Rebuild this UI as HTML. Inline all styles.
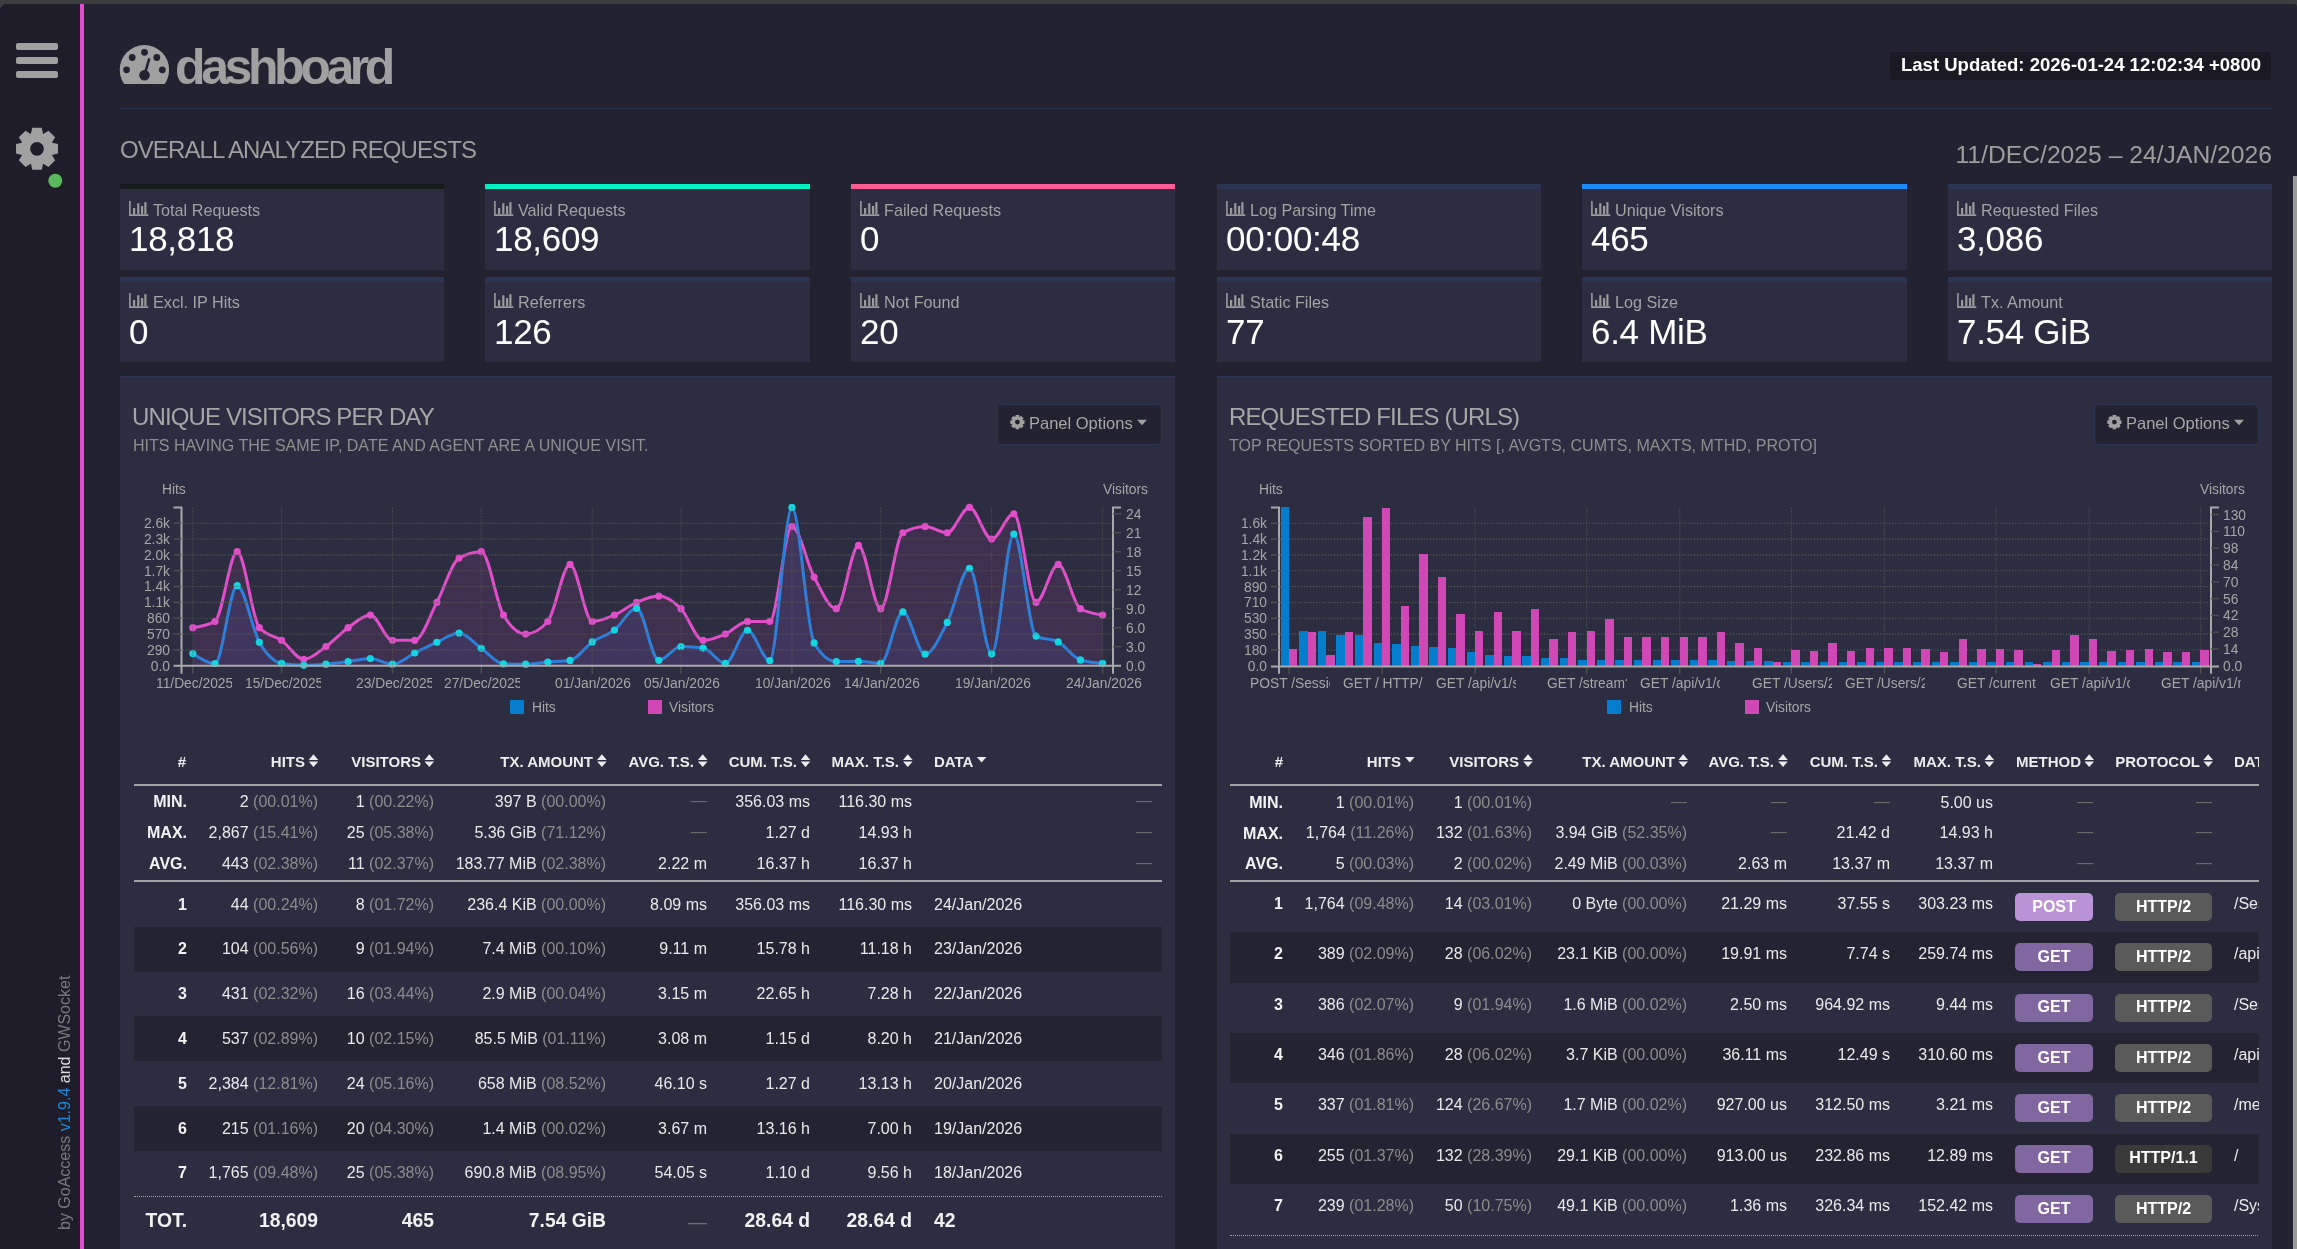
<!DOCTYPE html>
<html><head><meta charset="utf-8"><title>GoAccess Dashboard</title>
<style>
html,body{margin:0;padding:0;}
body{width:2297px;height:1249px;overflow:hidden;background:#3d3e40;position:relative;font-family:'Liberation Sans', sans-serif;}
.t{position:absolute;white-space:nowrap;will-change:transform;}
.r{position:absolute;}
svg{position:absolute;overflow:visible;}
</style></head><body>

<div class="r" style="left:0px;top:4px;width:2297px;height:1245px;background:#232230;border-top-left-radius:7px;border-top-right-radius:3px;"></div>
<div class="r" style="left:0px;top:4px;width:80px;height:1245px;background:#1e1d29;border-top-left-radius:7px;"></div>
<div class="r" style="left:80px;top:4px;width:4px;height:1245px;background:#e14eca;"></div>
<div class="r" style="left:16px;top:43px;width:42px;height:7px;background:#a0a0a0;border-radius:2px;"></div>
<div class="r" style="left:16px;top:57px;width:42px;height:7px;background:#a0a0a0;border-radius:2px;"></div>
<div class="r" style="left:16px;top:71px;width:42px;height:7px;background:#a0a0a0;border-radius:2px;"></div>
<svg style="left:0;top:0" width="84" height="200"><path d="M30.80,133.83 L30.90,133.79 L32.29,127.82 L41.71,127.82 L43.10,133.79 L43.20,133.83 L43.30,133.88 L48.50,130.64 L55.16,137.30 L51.92,142.50 L51.97,142.60 L52.01,142.70 L57.98,144.09 L57.98,153.51 L52.01,154.90 L51.97,155.00 L51.92,155.10 L55.16,160.30 L48.50,166.96 L43.30,163.72 L43.20,163.77 L43.10,163.81 L41.71,169.78 L32.29,169.78 L30.90,163.81 L30.80,163.77 L30.70,163.72 L25.50,166.96 L18.84,160.30 L22.08,155.10 L22.03,155.00 L21.99,154.90 L16.02,153.51 L16.02,144.09 L21.99,142.70 L22.03,142.60 L22.08,142.50 L18.84,137.30 L25.50,130.64 L30.70,133.88Z M43.90,148.80 A6.9,6.9 0 1,0 30.10,148.80 A6.9,6.9 0 1,0 43.90,148.80Z" fill="#a0a0a0" fill-rule="evenodd"/><circle cx="55.3" cy="180.8" r="7" fill="#5cb85c"/></svg>
<div class="t" style="left:-62.3px;top:1093.3px;width:254px;height:20px;font-size:16px;line-height:20px;transform:rotate(-90deg);transform-origin:127px 10px;color:#7a7a7a;">by GoAccess <span style="color:#1f86d6">v1.9.4</span> <span style="color:#dcdcdc">and</span> GWSocket</div>
<svg style="left:118px;top:43px" width="54" height="44" viewBox="118 43 54 44"><defs><clipPath id="gclip"><rect x="110" y="40" width="70" height="44.1"/></clipPath></defs><g clip-path="url(#gclip)"><circle cx="144.4" cy="69.7" r="24.7" fill="#a0a0a0"/></g><circle cx="144.5" cy="52.3" r="3.4" fill="#232230"/><circle cx="132.2" cy="57.5" r="3.4" fill="#232230"/><circle cx="156.8" cy="57.5" r="3.4" fill="#232230"/><circle cx="126.6" cy="69.8" r="3.4" fill="#232230"/><circle cx="162.3" cy="69.8" r="3.4" fill="#232230"/><circle cx="144.5" cy="75.3" r="5.3" fill="#232230"/><line x1="144.5" y1="75" x2="149" y2="59.5" stroke="#232230" stroke-width="2.6" stroke-linecap="round"/></svg>
<div class="t" style="left:175.00px;top:41.76px;width:1200px;font-size:50px;line-height:50px;color:#a0a0a0;text-align:left;font-weight:bold;letter-spacing:-4.4px;">dashboard</div>
<div class="r" style="left:1890px;top:52px;width:381px;height:28px;background:#1b1a24;border-radius:4px;"></div>
<div class="t" style="left:1761.00px;top:56.49px;width:500px;font-size:18.55px;line-height:18.55px;color:#ffffff;text-align:right;font-weight:bold;">Last Updated: 2026-01-24 12:02:34 +0800</div>
<div class="r" style="left:120px;top:108px;width:2152px;height:1px;background:#2b3553;"></div>
<div class="t" style="left:119.80px;top:137.88px;width:1200px;font-size:24px;line-height:24px;color:#9e9e9e;text-align:left;letter-spacing:-0.91px;">OVERALL ANALYZED REQUESTS</div>
<div class="t" style="left:1672.00px;top:142.89px;width:600px;font-size:24.7px;line-height:24.7px;color:#9e9e9e;text-align:right;">11/DEC/2025 – 24/JAN/2026</div>
<div class="r" style="left:2293px;top:176px;width:4px;height:1073px;background:#9a9a9a;"></div>
<div class="r" style="left:120px;top:184px;width:324px;height:5px;background:#151a1d;"></div>
<div class="r" style="left:120px;top:189px;width:324px;height:81px;background:#2c2d40;"></div>
<svg style="left:129px;top:201px" width="20" height="15" viewBox="0 0 20 15"><path d="M0.9,0 V14.1 H19.3" fill="none" stroke="#9a9a9a" stroke-width="1.6"/><rect x="4" y="7" width="2.2" height="6" fill="#9a9a9a"/><rect x="8.2" y="2.2" width="2.2" height="10.8" fill="#9a9a9a"/><rect x="12" y="5" width="2.2" height="8" fill="#9a9a9a"/><rect x="15.3" y="1.2" width="2.2" height="11.8" fill="#9a9a9a"/></svg>
<div class="t" style="left:153.00px;top:201.78px;width:1200px;font-size:16.2px;line-height:16.2px;color:#a3a3a3;text-align:left;">Total Requests</div>
<div class="t" style="left:129.20px;top:220.77px;width:1200px;font-size:35px;line-height:35px;color:#ffffff;text-align:left;letter-spacing:-0.3px;">18,818</div>
<div class="r" style="left:120px;top:277px;width:324px;height:5px;background:#2b3553;"></div>
<div class="r" style="left:120px;top:282px;width:324px;height:80px;background:#2c2d40;"></div>
<svg style="left:129px;top:293px" width="20" height="15" viewBox="0 0 20 15"><path d="M0.9,0 V14.1 H19.3" fill="none" stroke="#9a9a9a" stroke-width="1.6"/><rect x="4" y="7" width="2.2" height="6" fill="#9a9a9a"/><rect x="8.2" y="2.2" width="2.2" height="10.8" fill="#9a9a9a"/><rect x="12" y="5" width="2.2" height="8" fill="#9a9a9a"/><rect x="15.3" y="1.2" width="2.2" height="11.8" fill="#9a9a9a"/></svg>
<div class="t" style="left:153.00px;top:293.78px;width:1200px;font-size:16.2px;line-height:16.2px;color:#a3a3a3;text-align:left;">Excl. IP Hits</div>
<div class="t" style="left:129.20px;top:313.77px;width:1200px;font-size:35px;line-height:35px;color:#ffffff;text-align:left;letter-spacing:-0.3px;">0</div>
<div class="r" style="left:485px;top:184px;width:325px;height:5px;background:#00f2c3;"></div>
<div class="r" style="left:485px;top:189px;width:325px;height:81px;background:#2c2d40;"></div>
<svg style="left:494px;top:201px" width="20" height="15" viewBox="0 0 20 15"><path d="M0.9,0 V14.1 H19.3" fill="none" stroke="#9a9a9a" stroke-width="1.6"/><rect x="4" y="7" width="2.2" height="6" fill="#9a9a9a"/><rect x="8.2" y="2.2" width="2.2" height="10.8" fill="#9a9a9a"/><rect x="12" y="5" width="2.2" height="8" fill="#9a9a9a"/><rect x="15.3" y="1.2" width="2.2" height="11.8" fill="#9a9a9a"/></svg>
<div class="t" style="left:518.00px;top:201.78px;width:1200px;font-size:16.2px;line-height:16.2px;color:#a3a3a3;text-align:left;">Valid Requests</div>
<div class="t" style="left:494.20px;top:220.77px;width:1200px;font-size:35px;line-height:35px;color:#ffffff;text-align:left;letter-spacing:-0.3px;">18,609</div>
<div class="r" style="left:485px;top:277px;width:325px;height:5px;background:#2b3553;"></div>
<div class="r" style="left:485px;top:282px;width:325px;height:80px;background:#2c2d40;"></div>
<svg style="left:494px;top:293px" width="20" height="15" viewBox="0 0 20 15"><path d="M0.9,0 V14.1 H19.3" fill="none" stroke="#9a9a9a" stroke-width="1.6"/><rect x="4" y="7" width="2.2" height="6" fill="#9a9a9a"/><rect x="8.2" y="2.2" width="2.2" height="10.8" fill="#9a9a9a"/><rect x="12" y="5" width="2.2" height="8" fill="#9a9a9a"/><rect x="15.3" y="1.2" width="2.2" height="11.8" fill="#9a9a9a"/></svg>
<div class="t" style="left:518.00px;top:293.78px;width:1200px;font-size:16.2px;line-height:16.2px;color:#a3a3a3;text-align:left;">Referrers</div>
<div class="t" style="left:494.20px;top:313.77px;width:1200px;font-size:35px;line-height:35px;color:#ffffff;text-align:left;letter-spacing:-0.3px;">126</div>
<div class="r" style="left:851px;top:184px;width:324px;height:5px;background:#fd5d93;"></div>
<div class="r" style="left:851px;top:189px;width:324px;height:81px;background:#2c2d40;"></div>
<svg style="left:860px;top:201px" width="20" height="15" viewBox="0 0 20 15"><path d="M0.9,0 V14.1 H19.3" fill="none" stroke="#9a9a9a" stroke-width="1.6"/><rect x="4" y="7" width="2.2" height="6" fill="#9a9a9a"/><rect x="8.2" y="2.2" width="2.2" height="10.8" fill="#9a9a9a"/><rect x="12" y="5" width="2.2" height="8" fill="#9a9a9a"/><rect x="15.3" y="1.2" width="2.2" height="11.8" fill="#9a9a9a"/></svg>
<div class="t" style="left:884.00px;top:201.78px;width:1200px;font-size:16.2px;line-height:16.2px;color:#a3a3a3;text-align:left;">Failed Requests</div>
<div class="t" style="left:860.20px;top:220.77px;width:1200px;font-size:35px;line-height:35px;color:#ffffff;text-align:left;letter-spacing:-0.3px;">0</div>
<div class="r" style="left:851px;top:277px;width:324px;height:5px;background:#2b3553;"></div>
<div class="r" style="left:851px;top:282px;width:324px;height:80px;background:#2c2d40;"></div>
<svg style="left:860px;top:293px" width="20" height="15" viewBox="0 0 20 15"><path d="M0.9,0 V14.1 H19.3" fill="none" stroke="#9a9a9a" stroke-width="1.6"/><rect x="4" y="7" width="2.2" height="6" fill="#9a9a9a"/><rect x="8.2" y="2.2" width="2.2" height="10.8" fill="#9a9a9a"/><rect x="12" y="5" width="2.2" height="8" fill="#9a9a9a"/><rect x="15.3" y="1.2" width="2.2" height="11.8" fill="#9a9a9a"/></svg>
<div class="t" style="left:884.00px;top:293.78px;width:1200px;font-size:16.2px;line-height:16.2px;color:#a3a3a3;text-align:left;">Not Found</div>
<div class="t" style="left:860.20px;top:313.77px;width:1200px;font-size:35px;line-height:35px;color:#ffffff;text-align:left;letter-spacing:-0.3px;">20</div>
<div class="r" style="left:1217px;top:184px;width:324px;height:5px;background:#2b3553;"></div>
<div class="r" style="left:1217px;top:189px;width:324px;height:81px;background:#2c2d40;"></div>
<svg style="left:1226px;top:201px" width="20" height="15" viewBox="0 0 20 15"><path d="M0.9,0 V14.1 H19.3" fill="none" stroke="#9a9a9a" stroke-width="1.6"/><rect x="4" y="7" width="2.2" height="6" fill="#9a9a9a"/><rect x="8.2" y="2.2" width="2.2" height="10.8" fill="#9a9a9a"/><rect x="12" y="5" width="2.2" height="8" fill="#9a9a9a"/><rect x="15.3" y="1.2" width="2.2" height="11.8" fill="#9a9a9a"/></svg>
<div class="t" style="left:1250.00px;top:201.78px;width:1200px;font-size:16.2px;line-height:16.2px;color:#a3a3a3;text-align:left;">Log Parsing Time</div>
<div class="t" style="left:1226.20px;top:220.77px;width:1200px;font-size:35px;line-height:35px;color:#ffffff;text-align:left;letter-spacing:-0.3px;">00:00:48</div>
<div class="r" style="left:1217px;top:277px;width:324px;height:5px;background:#2b3553;"></div>
<div class="r" style="left:1217px;top:282px;width:324px;height:80px;background:#2c2d40;"></div>
<svg style="left:1226px;top:293px" width="20" height="15" viewBox="0 0 20 15"><path d="M0.9,0 V14.1 H19.3" fill="none" stroke="#9a9a9a" stroke-width="1.6"/><rect x="4" y="7" width="2.2" height="6" fill="#9a9a9a"/><rect x="8.2" y="2.2" width="2.2" height="10.8" fill="#9a9a9a"/><rect x="12" y="5" width="2.2" height="8" fill="#9a9a9a"/><rect x="15.3" y="1.2" width="2.2" height="11.8" fill="#9a9a9a"/></svg>
<div class="t" style="left:1250.00px;top:293.78px;width:1200px;font-size:16.2px;line-height:16.2px;color:#a3a3a3;text-align:left;">Static Files</div>
<div class="t" style="left:1226.20px;top:313.77px;width:1200px;font-size:35px;line-height:35px;color:#ffffff;text-align:left;letter-spacing:-0.3px;">77</div>
<div class="r" style="left:1582px;top:184px;width:325px;height:5px;background:#1d8cf8;"></div>
<div class="r" style="left:1582px;top:189px;width:325px;height:81px;background:#2c2d40;"></div>
<svg style="left:1591px;top:201px" width="20" height="15" viewBox="0 0 20 15"><path d="M0.9,0 V14.1 H19.3" fill="none" stroke="#9a9a9a" stroke-width="1.6"/><rect x="4" y="7" width="2.2" height="6" fill="#9a9a9a"/><rect x="8.2" y="2.2" width="2.2" height="10.8" fill="#9a9a9a"/><rect x="12" y="5" width="2.2" height="8" fill="#9a9a9a"/><rect x="15.3" y="1.2" width="2.2" height="11.8" fill="#9a9a9a"/></svg>
<div class="t" style="left:1615.00px;top:201.78px;width:1200px;font-size:16.2px;line-height:16.2px;color:#a3a3a3;text-align:left;">Unique Visitors</div>
<div class="t" style="left:1591.20px;top:220.77px;width:1200px;font-size:35px;line-height:35px;color:#ffffff;text-align:left;letter-spacing:-0.3px;">465</div>
<div class="r" style="left:1582px;top:277px;width:325px;height:5px;background:#2b3553;"></div>
<div class="r" style="left:1582px;top:282px;width:325px;height:80px;background:#2c2d40;"></div>
<svg style="left:1591px;top:293px" width="20" height="15" viewBox="0 0 20 15"><path d="M0.9,0 V14.1 H19.3" fill="none" stroke="#9a9a9a" stroke-width="1.6"/><rect x="4" y="7" width="2.2" height="6" fill="#9a9a9a"/><rect x="8.2" y="2.2" width="2.2" height="10.8" fill="#9a9a9a"/><rect x="12" y="5" width="2.2" height="8" fill="#9a9a9a"/><rect x="15.3" y="1.2" width="2.2" height="11.8" fill="#9a9a9a"/></svg>
<div class="t" style="left:1615.00px;top:293.78px;width:1200px;font-size:16.2px;line-height:16.2px;color:#a3a3a3;text-align:left;">Log Size</div>
<div class="t" style="left:1591.20px;top:313.77px;width:1200px;font-size:35px;line-height:35px;color:#ffffff;text-align:left;letter-spacing:-0.3px;">6.4 MiB</div>
<div class="r" style="left:1948px;top:184px;width:324px;height:5px;background:#2b3553;"></div>
<div class="r" style="left:1948px;top:189px;width:324px;height:81px;background:#2c2d40;"></div>
<svg style="left:1957px;top:201px" width="20" height="15" viewBox="0 0 20 15"><path d="M0.9,0 V14.1 H19.3" fill="none" stroke="#9a9a9a" stroke-width="1.6"/><rect x="4" y="7" width="2.2" height="6" fill="#9a9a9a"/><rect x="8.2" y="2.2" width="2.2" height="10.8" fill="#9a9a9a"/><rect x="12" y="5" width="2.2" height="8" fill="#9a9a9a"/><rect x="15.3" y="1.2" width="2.2" height="11.8" fill="#9a9a9a"/></svg>
<div class="t" style="left:1981.00px;top:201.78px;width:1200px;font-size:16.2px;line-height:16.2px;color:#a3a3a3;text-align:left;">Requested Files</div>
<div class="t" style="left:1957.20px;top:220.77px;width:1200px;font-size:35px;line-height:35px;color:#ffffff;text-align:left;letter-spacing:-0.3px;">3,086</div>
<div class="r" style="left:1948px;top:277px;width:324px;height:5px;background:#2b3553;"></div>
<div class="r" style="left:1948px;top:282px;width:324px;height:80px;background:#2c2d40;"></div>
<svg style="left:1957px;top:293px" width="20" height="15" viewBox="0 0 20 15"><path d="M0.9,0 V14.1 H19.3" fill="none" stroke="#9a9a9a" stroke-width="1.6"/><rect x="4" y="7" width="2.2" height="6" fill="#9a9a9a"/><rect x="8.2" y="2.2" width="2.2" height="10.8" fill="#9a9a9a"/><rect x="12" y="5" width="2.2" height="8" fill="#9a9a9a"/><rect x="15.3" y="1.2" width="2.2" height="11.8" fill="#9a9a9a"/></svg>
<div class="t" style="left:1981.00px;top:293.78px;width:1200px;font-size:16.2px;line-height:16.2px;color:#a3a3a3;text-align:left;">Tx. Amount</div>
<div class="t" style="left:1957.20px;top:313.77px;width:1200px;font-size:35px;line-height:35px;color:#ffffff;text-align:left;letter-spacing:-0.3px;">7.54 GiB</div>
<div class="r" style="left:120px;top:376px;width:1055px;height:873px;background:#2c2d40;border-top:1px solid #2b3553;box-sizing:border-box;"></div>
<div class="r" style="left:1217px;top:376px;width:1055px;height:873px;background:#2c2d40;border-top:1px solid #2b3553;box-sizing:border-box;"></div>
<div class="t" style="left:132.30px;top:404.68px;width:1200px;font-size:24px;line-height:24px;color:#a6a6a6;text-align:left;letter-spacing:-0.87px;">UNIQUE VISITORS PER DAY</div>
<div class="t" style="left:133.00px;top:437.31px;width:1200px;font-size:16.05px;line-height:16.05px;color:#8f8f8f;text-align:left;">HITS HAVING THE SAME IP, DATE AND AGENT ARE A UNIQUE VISIT.</div>
<div class="t" style="left:1228.50px;top:404.68px;width:1200px;font-size:24px;line-height:24px;color:#a6a6a6;text-align:left;letter-spacing:-0.87px;">REQUESTED FILES (URLS)</div>
<div class="t" style="left:1229.20px;top:437.31px;width:1200px;font-size:16.05px;line-height:16.05px;color:#8f8f8f;text-align:left;">TOP REQUESTS SORTED BY HITS [, AVGTS, CUMTS, MAXTS, MTHD, PROTO]</div>
<div class="r" style="left:997px;top:404px;width:165px;height:41px;background:#232230;border:1px solid #2b3553;border-radius:5px;box-sizing:border-box;"></div>
<svg style="left:0;top:0" width="1" height="1"><path d="M1015.33,417.11 L1015.26,417.14 L1015.72,415.00 L1019.08,415.00 L1019.54,417.14 L1019.47,417.11 L1019.39,417.08 L1021.23,415.89 L1023.61,418.27 L1022.42,420.11 L1022.39,420.03 L1022.36,419.96 L1024.50,420.42 L1024.50,423.78 L1022.36,424.24 L1022.39,424.17 L1022.42,424.09 L1023.61,425.93 L1021.23,428.31 L1019.39,427.12 L1019.47,427.09 L1019.54,427.06 L1019.08,429.20 L1015.72,429.20 L1015.26,427.06 L1015.33,427.09 L1015.41,427.12 L1013.57,428.31 L1011.19,425.93 L1012.38,424.09 L1012.41,424.17 L1012.44,424.24 L1010.30,423.78 L1010.30,420.42 L1012.44,419.96 L1012.41,420.03 L1012.38,420.11 L1011.19,418.27 L1013.57,415.89 L1015.41,417.08Z M1019.80,422.10 A2.4,2.4 0 1,0 1015.00,422.10 A2.4,2.4 0 1,0 1019.80,422.10Z" fill="#a0a0a0" fill-rule="evenodd"/><path d="M1137,419.8 L1147,419.8 L1142,425.3Z" fill="#a0a0a0"/></svg>
<div class="t" style="left:1029.00px;top:415.23px;width:1200px;font-size:16.5px;line-height:16.5px;color:#a6a6a6;text-align:left;">Panel Options</div>
<div class="r" style="left:2094px;top:404px;width:165px;height:41px;background:#232230;border:1px solid #2b3553;border-radius:5px;box-sizing:border-box;"></div>
<svg style="left:0;top:0" width="1" height="1"><path d="M2112.33,417.11 L2112.26,417.14 L2112.72,415.00 L2116.08,415.00 L2116.54,417.14 L2116.47,417.11 L2116.39,417.08 L2118.23,415.89 L2120.61,418.27 L2119.42,420.11 L2119.39,420.03 L2119.36,419.96 L2121.50,420.42 L2121.50,423.78 L2119.36,424.24 L2119.39,424.17 L2119.42,424.09 L2120.61,425.93 L2118.23,428.31 L2116.39,427.12 L2116.47,427.09 L2116.54,427.06 L2116.08,429.20 L2112.72,429.20 L2112.26,427.06 L2112.33,427.09 L2112.41,427.12 L2110.57,428.31 L2108.19,425.93 L2109.38,424.09 L2109.41,424.17 L2109.44,424.24 L2107.30,423.78 L2107.30,420.42 L2109.44,419.96 L2109.41,420.03 L2109.38,420.11 L2108.19,418.27 L2110.57,415.89 L2112.41,417.08Z M2116.80,422.10 A2.4,2.4 0 1,0 2112.00,422.10 A2.4,2.4 0 1,0 2116.80,422.10Z" fill="#a0a0a0" fill-rule="evenodd"/><path d="M2234,419.8 L2244,419.8 L2239,425.3Z" fill="#a0a0a0"/></svg>
<div class="t" style="left:2126.00px;top:415.23px;width:1200px;font-size:16.5px;line-height:16.5px;color:#a6a6a6;text-align:left;">Panel Options</div>
<svg style="left:0;top:0" width="2297" height="1249"><path d="M192.80,627.71 C200.20,626.65 207.59,625.60 214.99,621.38 C222.39,617.15 229.78,551.72 237.18,551.72 C244.58,551.72 251.97,619.27 259.37,627.71 C266.77,636.15 274.16,635.10 281.56,640.37 C288.96,645.65 296.35,659.37 303.75,659.37 C311.15,659.37 318.54,651.98 325.94,646.70 C333.34,641.43 340.73,632.98 348.13,627.71 C355.53,622.43 362.92,615.04 370.32,615.04 C377.72,615.04 385.11,640.37 392.51,640.37 C399.91,640.37 407.30,640.37 414.70,640.37 C422.10,640.37 429.49,616.10 436.89,602.38 C444.29,588.66 451.68,562.28 459.08,558.06 C466.48,553.83 473.87,551.72 481.27,551.72 C488.67,551.72 496.06,602.38 503.46,615.04 C510.86,627.71 518.25,634.04 525.65,634.04 C533.05,634.04 540.44,629.82 547.84,621.38 C555.24,612.93 562.63,564.39 570.03,564.39 C577.43,564.39 584.82,621.38 592.22,621.38 C599.62,621.38 607.01,618.21 614.41,615.04 C621.81,611.88 629.20,605.55 636.60,602.38 C644.00,599.21 651.39,596.05 658.79,596.05 C666.19,596.05 673.58,601.32 680.98,608.71 C688.38,616.10 695.77,640.37 703.17,640.37 C710.57,640.37 717.96,637.21 725.36,634.04 C732.76,630.87 740.15,621.38 747.55,621.38 C754.95,621.38 762.34,621.38 769.74,621.38 C777.14,621.38 784.53,526.40 791.93,526.40 C799.33,526.40 806.72,563.33 814.12,577.05 C821.52,590.77 828.91,608.71 836.31,608.71 C843.71,608.71 851.10,545.39 858.50,545.39 C865.90,545.39 873.29,608.71 880.69,608.71 C888.09,608.71 895.48,536.95 902.88,532.73 C910.28,528.51 917.67,526.40 925.07,526.40 C932.47,526.40 939.86,532.73 947.26,532.73 C954.66,532.73 962.05,507.40 969.45,507.40 C976.85,507.40 984.24,539.06 991.64,539.06 C999.04,539.06 1006.43,513.73 1013.83,513.73 C1021.23,513.73 1028.62,602.38 1036.02,602.38 C1043.42,602.38 1050.81,564.39 1058.21,564.39 C1065.61,564.39 1073.00,604.49 1080.40,608.71 C1087.80,612.93 1095.19,613.99 1102.59,615.04 L1102.59,665.7 L192.80,665.7Z" fill="#e14eca" fill-opacity="0.1"/><path d="M192.80,653.55 C200.20,658.52 207.59,663.49 214.99,663.49 C222.39,663.49 229.78,585.69 237.18,585.69 C244.58,585.69 251.97,629.30 259.37,642.23 C266.77,655.17 274.16,662.00 281.56,663.33 C288.96,664.65 296.35,665.31 303.75,665.31 C311.15,665.31 318.54,664.83 325.94,664.21 C333.34,663.59 340.73,662.56 348.13,661.61 C355.53,660.67 362.92,658.52 370.32,658.52 C377.72,658.52 385.11,664.21 392.51,664.21 C399.91,664.21 407.30,656.66 414.70,653.00 C422.10,649.34 429.49,645.57 436.89,642.23 C444.29,638.90 451.68,633.01 459.08,633.01 C466.48,633.01 473.87,643.17 481.27,648.31 C488.67,653.44 496.06,663.57 503.46,663.82 C510.86,664.08 518.25,664.21 525.65,664.21 C533.05,664.21 540.44,662.64 547.84,662.00 C555.24,661.37 562.63,661.47 570.03,660.40 C577.43,659.33 584.82,647.03 592.22,641.96 C599.62,636.89 607.01,635.59 614.41,629.98 C621.81,624.36 629.20,608.28 636.60,608.28 C644.00,608.28 651.39,660.29 658.79,660.29 C666.19,660.29 673.58,646.49 680.98,646.49 C688.38,646.49 695.77,647.02 703.17,648.09 C710.57,649.15 717.96,663.38 725.36,663.38 C732.76,663.38 740.15,630.31 747.55,630.31 C754.95,630.31 762.34,660.51 769.74,660.51 C777.14,660.51 784.53,507.40 791.93,507.40 C799.33,507.40 806.72,630.42 814.12,642.90 C821.52,655.37 828.91,661.61 836.31,661.61 C843.71,661.61 851.10,661.28 858.50,661.28 C865.90,661.28 873.29,663.33 880.69,663.33 C888.09,663.33 895.48,611.92 902.88,611.92 C910.28,611.92 917.67,654.22 925.07,654.22 C932.47,654.22 939.86,636.74 947.26,622.41 C954.66,608.08 962.05,568.25 969.45,568.25 C976.85,568.25 984.24,653.83 991.64,653.83 C999.04,653.83 1006.43,534.07 1013.83,534.07 C1021.23,534.07 1028.62,632.15 1036.02,636.05 C1043.42,639.95 1050.81,638.00 1058.21,641.90 C1065.61,645.80 1073.00,657.75 1080.40,659.96 C1087.80,662.17 1095.19,662.72 1102.59,663.27 L1102.59,665.7 L192.80,665.7Z" fill="#5060d0" fill-opacity="0.12"/><path d="M192.80,627.71 C200.20,626.65 207.59,625.60 214.99,621.38 C222.39,617.15 229.78,551.72 237.18,551.72 C244.58,551.72 251.97,619.27 259.37,627.71 C266.77,636.15 274.16,635.10 281.56,640.37 C288.96,645.65 296.35,659.37 303.75,659.37 C311.15,659.37 318.54,651.98 325.94,646.70 C333.34,641.43 340.73,632.98 348.13,627.71 C355.53,622.43 362.92,615.04 370.32,615.04 C377.72,615.04 385.11,640.37 392.51,640.37 C399.91,640.37 407.30,640.37 414.70,640.37 C422.10,640.37 429.49,616.10 436.89,602.38 C444.29,588.66 451.68,562.28 459.08,558.06 C466.48,553.83 473.87,551.72 481.27,551.72 C488.67,551.72 496.06,602.38 503.46,615.04 C510.86,627.71 518.25,634.04 525.65,634.04 C533.05,634.04 540.44,629.82 547.84,621.38 C555.24,612.93 562.63,564.39 570.03,564.39 C577.43,564.39 584.82,621.38 592.22,621.38 C599.62,621.38 607.01,618.21 614.41,615.04 C621.81,611.88 629.20,605.55 636.60,602.38 C644.00,599.21 651.39,596.05 658.79,596.05 C666.19,596.05 673.58,601.32 680.98,608.71 C688.38,616.10 695.77,640.37 703.17,640.37 C710.57,640.37 717.96,637.21 725.36,634.04 C732.76,630.87 740.15,621.38 747.55,621.38 C754.95,621.38 762.34,621.38 769.74,621.38 C777.14,621.38 784.53,526.40 791.93,526.40 C799.33,526.40 806.72,563.33 814.12,577.05 C821.52,590.77 828.91,608.71 836.31,608.71 C843.71,608.71 851.10,545.39 858.50,545.39 C865.90,545.39 873.29,608.71 880.69,608.71 C888.09,608.71 895.48,536.95 902.88,532.73 C910.28,528.51 917.67,526.40 925.07,526.40 C932.47,526.40 939.86,532.73 947.26,532.73 C954.66,532.73 962.05,507.40 969.45,507.40 C976.85,507.40 984.24,539.06 991.64,539.06 C999.04,539.06 1006.43,513.73 1013.83,513.73 C1021.23,513.73 1028.62,602.38 1036.02,602.38 C1043.42,602.38 1050.81,564.39 1058.21,564.39 C1065.61,564.39 1073.00,604.49 1080.40,608.71 C1087.80,612.93 1095.19,613.99 1102.59,615.04" fill="none" stroke="#e14eca" stroke-width="3"/><path d="M192.80,653.55 C200.20,658.52 207.59,663.49 214.99,663.49 C222.39,663.49 229.78,585.69 237.18,585.69 C244.58,585.69 251.97,629.30 259.37,642.23 C266.77,655.17 274.16,662.00 281.56,663.33 C288.96,664.65 296.35,665.31 303.75,665.31 C311.15,665.31 318.54,664.83 325.94,664.21 C333.34,663.59 340.73,662.56 348.13,661.61 C355.53,660.67 362.92,658.52 370.32,658.52 C377.72,658.52 385.11,664.21 392.51,664.21 C399.91,664.21 407.30,656.66 414.70,653.00 C422.10,649.34 429.49,645.57 436.89,642.23 C444.29,638.90 451.68,633.01 459.08,633.01 C466.48,633.01 473.87,643.17 481.27,648.31 C488.67,653.44 496.06,663.57 503.46,663.82 C510.86,664.08 518.25,664.21 525.65,664.21 C533.05,664.21 540.44,662.64 547.84,662.00 C555.24,661.37 562.63,661.47 570.03,660.40 C577.43,659.33 584.82,647.03 592.22,641.96 C599.62,636.89 607.01,635.59 614.41,629.98 C621.81,624.36 629.20,608.28 636.60,608.28 C644.00,608.28 651.39,660.29 658.79,660.29 C666.19,660.29 673.58,646.49 680.98,646.49 C688.38,646.49 695.77,647.02 703.17,648.09 C710.57,649.15 717.96,663.38 725.36,663.38 C732.76,663.38 740.15,630.31 747.55,630.31 C754.95,630.31 762.34,660.51 769.74,660.51 C777.14,660.51 784.53,507.40 791.93,507.40 C799.33,507.40 806.72,630.42 814.12,642.90 C821.52,655.37 828.91,661.61 836.31,661.61 C843.71,661.61 851.10,661.28 858.50,661.28 C865.90,661.28 873.29,663.33 880.69,663.33 C888.09,663.33 895.48,611.92 902.88,611.92 C910.28,611.92 917.67,654.22 925.07,654.22 C932.47,654.22 939.86,636.74 947.26,622.41 C954.66,608.08 962.05,568.25 969.45,568.25 C976.85,568.25 984.24,653.83 991.64,653.83 C999.04,653.83 1006.43,534.07 1013.83,534.07 C1021.23,534.07 1028.62,632.15 1036.02,636.05 C1043.42,639.95 1050.81,638.00 1058.21,641.90 C1065.61,645.80 1073.00,657.75 1080.40,659.96 C1087.80,662.17 1095.19,662.72 1102.59,663.27" fill="none" stroke="#2d7fd9" stroke-width="3"/><circle cx="192.80" cy="627.71" r="3.6" fill="#e14eca"/><circle cx="214.99" cy="621.38" r="3.6" fill="#e14eca"/><circle cx="237.18" cy="551.72" r="3.6" fill="#e14eca"/><circle cx="259.37" cy="627.71" r="3.6" fill="#e14eca"/><circle cx="281.56" cy="640.37" r="3.6" fill="#e14eca"/><circle cx="303.75" cy="659.37" r="3.6" fill="#e14eca"/><circle cx="325.94" cy="646.70" r="3.6" fill="#e14eca"/><circle cx="348.13" cy="627.71" r="3.6" fill="#e14eca"/><circle cx="370.32" cy="615.04" r="3.6" fill="#e14eca"/><circle cx="392.51" cy="640.37" r="3.6" fill="#e14eca"/><circle cx="414.70" cy="640.37" r="3.6" fill="#e14eca"/><circle cx="436.89" cy="602.38" r="3.6" fill="#e14eca"/><circle cx="459.08" cy="558.06" r="3.6" fill="#e14eca"/><circle cx="481.27" cy="551.72" r="3.6" fill="#e14eca"/><circle cx="503.46" cy="615.04" r="3.6" fill="#e14eca"/><circle cx="525.65" cy="634.04" r="3.6" fill="#e14eca"/><circle cx="547.84" cy="621.38" r="3.6" fill="#e14eca"/><circle cx="570.03" cy="564.39" r="3.6" fill="#e14eca"/><circle cx="592.22" cy="621.38" r="3.6" fill="#e14eca"/><circle cx="614.41" cy="615.04" r="3.6" fill="#e14eca"/><circle cx="636.60" cy="602.38" r="3.6" fill="#e14eca"/><circle cx="658.79" cy="596.05" r="3.6" fill="#e14eca"/><circle cx="680.98" cy="608.71" r="3.6" fill="#e14eca"/><circle cx="703.17" cy="640.37" r="3.6" fill="#e14eca"/><circle cx="725.36" cy="634.04" r="3.6" fill="#e14eca"/><circle cx="747.55" cy="621.38" r="3.6" fill="#e14eca"/><circle cx="769.74" cy="621.38" r="3.6" fill="#e14eca"/><circle cx="791.93" cy="526.40" r="3.6" fill="#e14eca"/><circle cx="814.12" cy="577.05" r="3.6" fill="#e14eca"/><circle cx="836.31" cy="608.71" r="3.6" fill="#e14eca"/><circle cx="858.50" cy="545.39" r="3.6" fill="#e14eca"/><circle cx="880.69" cy="608.71" r="3.6" fill="#e14eca"/><circle cx="902.88" cy="532.73" r="3.6" fill="#e14eca"/><circle cx="925.07" cy="526.40" r="3.6" fill="#e14eca"/><circle cx="947.26" cy="532.73" r="3.6" fill="#e14eca"/><circle cx="969.45" cy="507.40" r="3.6" fill="#e14eca"/><circle cx="991.64" cy="539.06" r="3.6" fill="#e14eca"/><circle cx="1013.83" cy="513.73" r="3.6" fill="#e14eca"/><circle cx="1036.02" cy="602.38" r="3.6" fill="#e14eca"/><circle cx="1058.21" cy="564.39" r="3.6" fill="#e14eca"/><circle cx="1080.40" cy="608.71" r="3.6" fill="#e14eca"/><circle cx="1102.59" cy="615.04" r="3.6" fill="#e14eca"/><circle cx="192.80" cy="653.55" r="3.6" fill="#13d6e3"/><circle cx="214.99" cy="663.49" r="3.6" fill="#13d6e3"/><circle cx="237.18" cy="585.69" r="3.6" fill="#13d6e3"/><circle cx="259.37" cy="642.23" r="3.6" fill="#13d6e3"/><circle cx="281.56" cy="663.33" r="3.6" fill="#13d6e3"/><circle cx="303.75" cy="665.31" r="3.6" fill="#13d6e3"/><circle cx="325.94" cy="664.21" r="3.6" fill="#13d6e3"/><circle cx="348.13" cy="661.61" r="3.6" fill="#13d6e3"/><circle cx="370.32" cy="658.52" r="3.6" fill="#13d6e3"/><circle cx="392.51" cy="664.21" r="3.6" fill="#13d6e3"/><circle cx="414.70" cy="653.00" r="3.6" fill="#13d6e3"/><circle cx="436.89" cy="642.23" r="3.6" fill="#13d6e3"/><circle cx="459.08" cy="633.01" r="3.6" fill="#13d6e3"/><circle cx="481.27" cy="648.31" r="3.6" fill="#13d6e3"/><circle cx="503.46" cy="663.82" r="3.6" fill="#13d6e3"/><circle cx="525.65" cy="664.21" r="3.6" fill="#13d6e3"/><circle cx="547.84" cy="662.00" r="3.6" fill="#13d6e3"/><circle cx="570.03" cy="660.40" r="3.6" fill="#13d6e3"/><circle cx="592.22" cy="641.96" r="3.6" fill="#13d6e3"/><circle cx="614.41" cy="629.98" r="3.6" fill="#13d6e3"/><circle cx="636.60" cy="608.28" r="3.6" fill="#13d6e3"/><circle cx="658.79" cy="660.29" r="3.6" fill="#13d6e3"/><circle cx="680.98" cy="646.49" r="3.6" fill="#13d6e3"/><circle cx="703.17" cy="648.09" r="3.6" fill="#13d6e3"/><circle cx="725.36" cy="663.38" r="3.6" fill="#13d6e3"/><circle cx="747.55" cy="630.31" r="3.6" fill="#13d6e3"/><circle cx="769.74" cy="660.51" r="3.6" fill="#13d6e3"/><circle cx="791.93" cy="507.40" r="3.6" fill="#13d6e3"/><circle cx="814.12" cy="642.90" r="3.6" fill="#13d6e3"/><circle cx="836.31" cy="661.61" r="3.6" fill="#13d6e3"/><circle cx="858.50" cy="661.28" r="3.6" fill="#13d6e3"/><circle cx="880.69" cy="663.33" r="3.6" fill="#13d6e3"/><circle cx="902.88" cy="611.92" r="3.6" fill="#13d6e3"/><circle cx="925.07" cy="654.22" r="3.6" fill="#13d6e3"/><circle cx="947.26" cy="622.41" r="3.6" fill="#13d6e3"/><circle cx="969.45" cy="568.25" r="3.6" fill="#13d6e3"/><circle cx="991.64" cy="653.83" r="3.6" fill="#13d6e3"/><circle cx="1013.83" cy="534.07" r="3.6" fill="#13d6e3"/><circle cx="1036.02" cy="636.05" r="3.6" fill="#13d6e3"/><circle cx="1058.21" cy="641.90" r="3.6" fill="#13d6e3"/><circle cx="1080.40" cy="659.96" r="3.6" fill="#13d6e3"/><circle cx="1102.59" cy="663.27" r="3.6" fill="#13d6e3"/><line x1="182.5" y1="649.87" x2="1113.0" y2="649.87" stroke="#5a5c58" stroke-width="1.1" stroke-dasharray="1.2,1.8"/><line x1="182.5" y1="634.04" x2="1113.0" y2="634.04" stroke="#5a5c58" stroke-width="1.1" stroke-dasharray="1.2,1.8"/><line x1="182.5" y1="618.21" x2="1113.0" y2="618.21" stroke="#5a5c58" stroke-width="1.1" stroke-dasharray="1.2,1.8"/><line x1="182.5" y1="602.38" x2="1113.0" y2="602.38" stroke="#5a5c58" stroke-width="1.1" stroke-dasharray="1.2,1.8"/><line x1="182.5" y1="586.55" x2="1113.0" y2="586.55" stroke="#5a5c58" stroke-width="1.1" stroke-dasharray="1.2,1.8"/><line x1="182.5" y1="570.72" x2="1113.0" y2="570.72" stroke="#5a5c58" stroke-width="1.1" stroke-dasharray="1.2,1.8"/><line x1="182.5" y1="554.89" x2="1113.0" y2="554.89" stroke="#5a5c58" stroke-width="1.1" stroke-dasharray="1.2,1.8"/><line x1="182.5" y1="539.06" x2="1113.0" y2="539.06" stroke="#5a5c58" stroke-width="1.1" stroke-dasharray="1.2,1.8"/><line x1="182.5" y1="523.23" x2="1113.0" y2="523.23" stroke="#5a5c58" stroke-width="1.1" stroke-dasharray="1.2,1.8"/><line x1="192.80" y1="507.4" x2="192.80" y2="665.7" stroke="#5a5c58" stroke-width="1.1" stroke-dasharray="1.2,1.8"/><line x1="192.80" y1="665.7" x2="192.80" y2="673.7" stroke="#4f5250" stroke-width="1.4"/><line x1="281.56" y1="507.4" x2="281.56" y2="665.7" stroke="#5a5c58" stroke-width="1.1" stroke-dasharray="1.2,1.8"/><line x1="281.56" y1="665.7" x2="281.56" y2="673.7" stroke="#4f5250" stroke-width="1.4"/><line x1="392.51" y1="507.4" x2="392.51" y2="665.7" stroke="#5a5c58" stroke-width="1.1" stroke-dasharray="1.2,1.8"/><line x1="392.51" y1="665.7" x2="392.51" y2="673.7" stroke="#4f5250" stroke-width="1.4"/><line x1="481.27" y1="507.4" x2="481.27" y2="665.7" stroke="#5a5c58" stroke-width="1.1" stroke-dasharray="1.2,1.8"/><line x1="481.27" y1="665.7" x2="481.27" y2="673.7" stroke="#4f5250" stroke-width="1.4"/><line x1="592.22" y1="507.4" x2="592.22" y2="665.7" stroke="#5a5c58" stroke-width="1.1" stroke-dasharray="1.2,1.8"/><line x1="592.22" y1="665.7" x2="592.22" y2="673.7" stroke="#4f5250" stroke-width="1.4"/><line x1="680.98" y1="507.4" x2="680.98" y2="665.7" stroke="#5a5c58" stroke-width="1.1" stroke-dasharray="1.2,1.8"/><line x1="680.98" y1="665.7" x2="680.98" y2="673.7" stroke="#4f5250" stroke-width="1.4"/><line x1="791.93" y1="507.4" x2="791.93" y2="665.7" stroke="#5a5c58" stroke-width="1.1" stroke-dasharray="1.2,1.8"/><line x1="791.93" y1="665.7" x2="791.93" y2="673.7" stroke="#4f5250" stroke-width="1.4"/><line x1="880.69" y1="507.4" x2="880.69" y2="665.7" stroke="#5a5c58" stroke-width="1.1" stroke-dasharray="1.2,1.8"/><line x1="880.69" y1="665.7" x2="880.69" y2="673.7" stroke="#4f5250" stroke-width="1.4"/><line x1="991.64" y1="507.4" x2="991.64" y2="665.7" stroke="#5a5c58" stroke-width="1.1" stroke-dasharray="1.2,1.8"/><line x1="991.64" y1="665.7" x2="991.64" y2="673.7" stroke="#4f5250" stroke-width="1.4"/><line x1="1102.59" y1="507.4" x2="1102.59" y2="665.7" stroke="#5a5c58" stroke-width="1.1" stroke-dasharray="1.2,1.8"/><line x1="1102.59" y1="665.7" x2="1102.59" y2="673.7" stroke="#4f5250" stroke-width="1.4"/><path d="M173.5,507.4 H181.5 V673.7" fill="none" stroke="#a8a8a8" stroke-width="2"/><line x1="173.5" y1="649.87" x2="181.5" y2="649.87" stroke="#4f5250" stroke-width="1.4"/><line x1="173.5" y1="634.04" x2="181.5" y2="634.04" stroke="#4f5250" stroke-width="1.4"/><line x1="173.5" y1="618.21" x2="181.5" y2="618.21" stroke="#4f5250" stroke-width="1.4"/><line x1="173.5" y1="602.38" x2="181.5" y2="602.38" stroke="#4f5250" stroke-width="1.4"/><line x1="173.5" y1="586.55" x2="181.5" y2="586.55" stroke="#4f5250" stroke-width="1.4"/><line x1="173.5" y1="570.72" x2="181.5" y2="570.72" stroke="#4f5250" stroke-width="1.4"/><line x1="173.5" y1="554.89" x2="181.5" y2="554.89" stroke="#4f5250" stroke-width="1.4"/><line x1="173.5" y1="539.06" x2="181.5" y2="539.06" stroke="#4f5250" stroke-width="1.4"/><line x1="173.5" y1="523.23" x2="181.5" y2="523.23" stroke="#4f5250" stroke-width="1.4"/><path d="M1121.0,507.4 H1113.0 V673.7" fill="none" stroke="#a8a8a8" stroke-width="2"/><line x1="1113.0" y1="646.71" x2="1121.0" y2="646.71" stroke="#4f5250" stroke-width="1.4"/><line x1="1113.0" y1="627.72" x2="1121.0" y2="627.72" stroke="#4f5250" stroke-width="1.4"/><line x1="1113.0" y1="608.73" x2="1121.0" y2="608.73" stroke="#4f5250" stroke-width="1.4"/><line x1="1113.0" y1="589.74" x2="1121.0" y2="589.74" stroke="#4f5250" stroke-width="1.4"/><line x1="1113.0" y1="570.75" x2="1121.0" y2="570.75" stroke="#4f5250" stroke-width="1.4"/><line x1="1113.0" y1="551.76" x2="1121.0" y2="551.76" stroke="#4f5250" stroke-width="1.4"/><line x1="1113.0" y1="532.77" x2="1121.0" y2="532.77" stroke="#4f5250" stroke-width="1.4"/><line x1="1113.0" y1="513.78" x2="1121.0" y2="513.78" stroke="#4f5250" stroke-width="1.4"/><line x1="173.5" y1="665.7" x2="1121.0" y2="665.7" stroke="#a8a8a8" stroke-width="2"/></svg>
<div class="t" style="left:109.50px;top:659.62px;width:60px;font-size:13.8px;line-height:13.8px;color:#a6a6a6;text-align:right;">0.0</div>
<div class="t" style="left:109.50px;top:643.79px;width:60px;font-size:13.8px;line-height:13.8px;color:#a6a6a6;text-align:right;">290</div>
<div class="t" style="left:109.50px;top:627.96px;width:60px;font-size:13.8px;line-height:13.8px;color:#a6a6a6;text-align:right;">570</div>
<div class="t" style="left:109.50px;top:612.13px;width:60px;font-size:13.8px;line-height:13.8px;color:#a6a6a6;text-align:right;">860</div>
<div class="t" style="left:109.50px;top:596.30px;width:60px;font-size:13.8px;line-height:13.8px;color:#a6a6a6;text-align:right;">1.1k</div>
<div class="t" style="left:109.50px;top:580.47px;width:60px;font-size:13.8px;line-height:13.8px;color:#a6a6a6;text-align:right;">1.4k</div>
<div class="t" style="left:109.50px;top:564.64px;width:60px;font-size:13.8px;line-height:13.8px;color:#a6a6a6;text-align:right;">1.7k</div>
<div class="t" style="left:109.50px;top:548.81px;width:60px;font-size:13.8px;line-height:13.8px;color:#a6a6a6;text-align:right;">2.0k</div>
<div class="t" style="left:109.50px;top:532.98px;width:60px;font-size:13.8px;line-height:13.8px;color:#a6a6a6;text-align:right;">2.3k</div>
<div class="t" style="left:109.50px;top:517.15px;width:60px;font-size:13.8px;line-height:13.8px;color:#a6a6a6;text-align:right;">2.6k</div>
<div class="t" style="left:1125.50px;top:659.62px;width:60px;font-size:13.8px;line-height:13.8px;color:#a6a6a6;text-align:left;">0.0</div>
<div class="t" style="left:1125.50px;top:640.63px;width:60px;font-size:13.8px;line-height:13.8px;color:#a6a6a6;text-align:left;">3.0</div>
<div class="t" style="left:1125.50px;top:621.64px;width:60px;font-size:13.8px;line-height:13.8px;color:#a6a6a6;text-align:left;">6.0</div>
<div class="t" style="left:1125.50px;top:602.65px;width:60px;font-size:13.8px;line-height:13.8px;color:#a6a6a6;text-align:left;">9.0</div>
<div class="t" style="left:1125.50px;top:583.66px;width:60px;font-size:13.8px;line-height:13.8px;color:#a6a6a6;text-align:left;">12</div>
<div class="t" style="left:1125.50px;top:564.67px;width:60px;font-size:13.8px;line-height:13.8px;color:#a6a6a6;text-align:left;">15</div>
<div class="t" style="left:1125.50px;top:545.68px;width:60px;font-size:13.8px;line-height:13.8px;color:#a6a6a6;text-align:left;">18</div>
<div class="t" style="left:1125.50px;top:526.69px;width:60px;font-size:13.8px;line-height:13.8px;color:#a6a6a6;text-align:left;">21</div>
<div class="t" style="left:1125.50px;top:507.70px;width:60px;font-size:13.8px;line-height:13.8px;color:#a6a6a6;text-align:left;">24</div>
<div class="t" style="left:162.30px;top:483.12px;width:1200px;font-size:13.8px;line-height:13.8px;color:#a6a6a6;text-align:left;">Hits</div>
<div class="t" style="left:1068.00px;top:483.12px;width:80px;font-size:13.8px;line-height:13.8px;color:#a6a6a6;text-align:right;">Visitors</div>
<div class="t" style="left:155.90px;top:677.32px;width:76px;overflow:hidden;font-size:13.8px;line-height:13.8px;color:#a6a6a6;"><span style="display:inline-block;margin-left:0px">11/Dec/2025</span></div>
<div class="t" style="left:244.66px;top:677.32px;width:76px;overflow:hidden;font-size:13.8px;line-height:13.8px;color:#a6a6a6;"><span style="display:inline-block;margin-left:0px">15/Dec/2025</span></div>
<div class="t" style="left:355.61px;top:677.32px;width:76px;overflow:hidden;font-size:13.8px;line-height:13.8px;color:#a6a6a6;"><span style="display:inline-block;margin-left:0px">23/Dec/2025</span></div>
<div class="t" style="left:444.37px;top:677.32px;width:76px;overflow:hidden;font-size:13.8px;line-height:13.8px;color:#a6a6a6;"><span style="display:inline-block;margin-left:0px">27/Dec/2025</span></div>
<div class="t" style="left:555.32px;top:677.32px;width:76px;overflow:hidden;font-size:13.8px;line-height:13.8px;color:#a6a6a6;"><span style="display:inline-block;margin-left:0px">01/Jan/2026</span></div>
<div class="t" style="left:644.08px;top:677.32px;width:76px;overflow:hidden;font-size:13.8px;line-height:13.8px;color:#a6a6a6;"><span style="display:inline-block;margin-left:0px">05/Jan/2026</span></div>
<div class="t" style="left:755.03px;top:677.32px;width:76px;overflow:hidden;font-size:13.8px;line-height:13.8px;color:#a6a6a6;"><span style="display:inline-block;margin-left:0px">10/Jan/2026</span></div>
<div class="t" style="left:843.79px;top:677.32px;width:76px;overflow:hidden;font-size:13.8px;line-height:13.8px;color:#a6a6a6;"><span style="display:inline-block;margin-left:0px">14/Jan/2026</span></div>
<div class="t" style="left:954.74px;top:677.32px;width:76px;overflow:hidden;font-size:13.8px;line-height:13.8px;color:#a6a6a6;"><span style="display:inline-block;margin-left:0px">19/Jan/2026</span></div>
<div class="t" style="left:1065.69px;top:677.32px;width:76px;overflow:hidden;font-size:13.8px;line-height:13.8px;color:#a6a6a6;"><span style="display:inline-block;margin-left:0px">24/Jan/2026</span></div>
<div class="r" style="left:510.20000000000005px;top:700px;width:14px;height:14px;background:#047ecc;"></div>
<div class="t" style="left:531.70px;top:701.32px;width:1200px;font-size:13.8px;line-height:13.8px;color:#a6a6a6;text-align:left;">Hits</div>
<div class="r" style="left:647.9000000000001px;top:700px;width:14px;height:14px;background:#d048b6;"></div>
<div class="t" style="left:668.70px;top:701.32px;width:1200px;font-size:13.8px;line-height:13.8px;color:#a6a6a6;text-align:left;">Visitors</div>
<svg style="left:0;top:0" width="2297" height="1249"><line x1="1280.0" y1="649.96" x2="2211.0" y2="649.96" stroke="#5a5c58" stroke-width="1.1" stroke-dasharray="1.2,1.8"/><line x1="1280.0" y1="634.12" x2="2211.0" y2="634.12" stroke="#5a5c58" stroke-width="1.1" stroke-dasharray="1.2,1.8"/><line x1="1280.0" y1="618.28" x2="2211.0" y2="618.28" stroke="#5a5c58" stroke-width="1.1" stroke-dasharray="1.2,1.8"/><line x1="1280.0" y1="602.44" x2="2211.0" y2="602.44" stroke="#5a5c58" stroke-width="1.1" stroke-dasharray="1.2,1.8"/><line x1="1280.0" y1="586.60" x2="2211.0" y2="586.60" stroke="#5a5c58" stroke-width="1.1" stroke-dasharray="1.2,1.8"/><line x1="1280.0" y1="570.76" x2="2211.0" y2="570.76" stroke="#5a5c58" stroke-width="1.1" stroke-dasharray="1.2,1.8"/><line x1="1280.0" y1="554.92" x2="2211.0" y2="554.92" stroke="#5a5c58" stroke-width="1.1" stroke-dasharray="1.2,1.8"/><line x1="1280.0" y1="539.08" x2="2211.0" y2="539.08" stroke="#5a5c58" stroke-width="1.1" stroke-dasharray="1.2,1.8"/><line x1="1280.0" y1="523.24" x2="2211.0" y2="523.24" stroke="#5a5c58" stroke-width="1.1" stroke-dasharray="1.2,1.8"/><line x1="1289.10" y1="507.4" x2="1289.10" y2="665.8" stroke="#5a5c58" stroke-width="1.1" stroke-dasharray="1.2,1.8"/><line x1="1289.10" y1="665.8" x2="1289.10" y2="673.8" stroke="#4f5250" stroke-width="1.4"/><line x1="1382.12" y1="507.4" x2="1382.12" y2="665.8" stroke="#5a5c58" stroke-width="1.1" stroke-dasharray="1.2,1.8"/><line x1="1382.12" y1="665.8" x2="1382.12" y2="673.8" stroke="#4f5250" stroke-width="1.4"/><line x1="1475.14" y1="507.4" x2="1475.14" y2="665.8" stroke="#5a5c58" stroke-width="1.1" stroke-dasharray="1.2,1.8"/><line x1="1475.14" y1="665.8" x2="1475.14" y2="673.8" stroke="#4f5250" stroke-width="1.4"/><line x1="1586.76" y1="507.4" x2="1586.76" y2="665.8" stroke="#5a5c58" stroke-width="1.1" stroke-dasharray="1.2,1.8"/><line x1="1586.76" y1="665.8" x2="1586.76" y2="673.8" stroke="#4f5250" stroke-width="1.4"/><line x1="1679.78" y1="507.4" x2="1679.78" y2="665.8" stroke="#5a5c58" stroke-width="1.1" stroke-dasharray="1.2,1.8"/><line x1="1679.78" y1="665.8" x2="1679.78" y2="673.8" stroke="#4f5250" stroke-width="1.4"/><line x1="1791.41" y1="507.4" x2="1791.41" y2="665.8" stroke="#5a5c58" stroke-width="1.1" stroke-dasharray="1.2,1.8"/><line x1="1791.41" y1="665.8" x2="1791.41" y2="673.8" stroke="#4f5250" stroke-width="1.4"/><line x1="1884.43" y1="507.4" x2="1884.43" y2="665.8" stroke="#5a5c58" stroke-width="1.1" stroke-dasharray="1.2,1.8"/><line x1="1884.43" y1="665.8" x2="1884.43" y2="673.8" stroke="#4f5250" stroke-width="1.4"/><line x1="1996.05" y1="507.4" x2="1996.05" y2="665.8" stroke="#5a5c58" stroke-width="1.1" stroke-dasharray="1.2,1.8"/><line x1="1996.05" y1="665.8" x2="1996.05" y2="673.8" stroke="#4f5250" stroke-width="1.4"/><line x1="2089.07" y1="507.4" x2="2089.07" y2="665.8" stroke="#5a5c58" stroke-width="1.1" stroke-dasharray="1.2,1.8"/><line x1="2089.07" y1="665.8" x2="2089.07" y2="673.8" stroke="#4f5250" stroke-width="1.4"/><line x1="2200.70" y1="507.4" x2="2200.70" y2="665.8" stroke="#5a5c58" stroke-width="1.1" stroke-dasharray="1.2,1.8"/><line x1="2200.70" y1="665.8" x2="2200.70" y2="673.8" stroke="#4f5250" stroke-width="1.4"/><g shape-rendering="crispEdges"><rect x="1280.60" y="506.80" width="8.4" height="159.30" fill="#047ecc"/><rect x="1289.00" y="648.80" width="8.4" height="17.30" fill="#d048b6"/><rect x="1299.20" y="630.70" width="8.4" height="35.40" fill="#047ecc"/><rect x="1307.60" y="631.50" width="8.4" height="34.60" fill="#d048b6"/><rect x="1317.80" y="630.70" width="8.4" height="35.40" fill="#047ecc"/><rect x="1326.20" y="654.60" width="8.4" height="11.50" fill="#d048b6"/><rect x="1336.40" y="634.50" width="8.4" height="31.60" fill="#047ecc"/><rect x="1344.80" y="631.50" width="8.4" height="34.60" fill="#d048b6"/><rect x="1355.00" y="634.50" width="8.4" height="31.60" fill="#047ecc"/><rect x="1363.40" y="516.70" width="8.4" height="149.40" fill="#d048b6"/><rect x="1373.60" y="642.70" width="8.4" height="23.40" fill="#047ecc"/><rect x="1382.00" y="507.60" width="8.4" height="158.50" fill="#d048b6"/><rect x="1392.20" y="643.60" width="8.4" height="22.50" fill="#047ecc"/><rect x="1400.60" y="605.60" width="8.4" height="60.50" fill="#d048b6"/><rect x="1410.80" y="645.80" width="8.4" height="20.30" fill="#047ecc"/><rect x="1419.20" y="553.70" width="8.4" height="112.40" fill="#d048b6"/><rect x="1429.40" y="646.70" width="8.4" height="19.40" fill="#047ecc"/><rect x="1437.80" y="576.60" width="8.4" height="89.50" fill="#d048b6"/><rect x="1448.00" y="647.70" width="8.4" height="18.40" fill="#047ecc"/><rect x="1456.40" y="613.70" width="8.4" height="52.40" fill="#d048b6"/><rect x="1466.60" y="651.70" width="8.4" height="14.40" fill="#047ecc"/><rect x="1475.00" y="630.90" width="8.4" height="35.20" fill="#d048b6"/><rect x="1485.20" y="654.80" width="8.4" height="11.30" fill="#047ecc"/><rect x="1493.60" y="612.00" width="8.4" height="54.10" fill="#d048b6"/><rect x="1503.80" y="655.90" width="8.4" height="10.20" fill="#047ecc"/><rect x="1512.20" y="630.90" width="8.4" height="35.20" fill="#d048b6"/><rect x="1522.40" y="655.90" width="8.4" height="10.20" fill="#047ecc"/><rect x="1530.80" y="609.00" width="8.4" height="57.10" fill="#d048b6"/><rect x="1541.00" y="657.90" width="8.4" height="8.20" fill="#047ecc"/><rect x="1549.40" y="638.90" width="8.4" height="27.20" fill="#d048b6"/><rect x="1559.60" y="657.90" width="8.4" height="8.20" fill="#047ecc"/><rect x="1568.00" y="632.00" width="8.4" height="34.10" fill="#d048b6"/><rect x="1578.20" y="659.90" width="8.4" height="6.20" fill="#047ecc"/><rect x="1586.60" y="630.90" width="8.4" height="35.20" fill="#d048b6"/><rect x="1596.80" y="659.90" width="8.4" height="6.20" fill="#047ecc"/><rect x="1605.20" y="619.00" width="8.4" height="47.10" fill="#d048b6"/><rect x="1615.40" y="659.90" width="8.4" height="6.20" fill="#047ecc"/><rect x="1623.80" y="637.00" width="8.4" height="29.10" fill="#d048b6"/><rect x="1634.00" y="659.90" width="8.4" height="6.20" fill="#047ecc"/><rect x="1642.40" y="637.00" width="8.4" height="29.10" fill="#d048b6"/><rect x="1652.60" y="659.90" width="8.4" height="6.20" fill="#047ecc"/><rect x="1661.00" y="637.00" width="8.4" height="29.10" fill="#d048b6"/><rect x="1671.20" y="659.90" width="8.4" height="6.20" fill="#047ecc"/><rect x="1679.60" y="637.00" width="8.4" height="29.10" fill="#d048b6"/><rect x="1689.80" y="659.90" width="8.4" height="6.20" fill="#047ecc"/><rect x="1698.20" y="637.00" width="8.4" height="29.10" fill="#d048b6"/><rect x="1708.40" y="659.90" width="8.4" height="6.20" fill="#047ecc"/><rect x="1716.80" y="632.00" width="8.4" height="34.10" fill="#d048b6"/><rect x="1727.00" y="661.00" width="8.4" height="5.10" fill="#047ecc"/><rect x="1735.40" y="642.90" width="8.4" height="23.20" fill="#d048b6"/><rect x="1745.60" y="661.00" width="8.4" height="5.10" fill="#047ecc"/><rect x="1754.00" y="647.90" width="8.4" height="18.20" fill="#d048b6"/><rect x="1764.20" y="661.00" width="8.4" height="5.10" fill="#047ecc"/><rect x="1772.60" y="661.80" width="8.4" height="4.30" fill="#d048b6"/><rect x="1782.80" y="661.80" width="8.4" height="4.30" fill="#047ecc"/><rect x="1791.20" y="649.90" width="8.4" height="16.20" fill="#d048b6"/><rect x="1801.40" y="661.80" width="8.4" height="4.30" fill="#047ecc"/><rect x="1809.80" y="650.90" width="8.4" height="15.20" fill="#d048b6"/><rect x="1820.00" y="661.80" width="8.4" height="4.30" fill="#047ecc"/><rect x="1828.40" y="642.90" width="8.4" height="23.20" fill="#d048b6"/><rect x="1838.60" y="661.80" width="8.4" height="4.30" fill="#047ecc"/><rect x="1847.00" y="650.90" width="8.4" height="15.20" fill="#d048b6"/><rect x="1857.20" y="661.80" width="8.4" height="4.30" fill="#047ecc"/><rect x="1865.60" y="647.90" width="8.4" height="18.20" fill="#d048b6"/><rect x="1875.80" y="661.80" width="8.4" height="4.30" fill="#047ecc"/><rect x="1884.20" y="647.90" width="8.4" height="18.20" fill="#d048b6"/><rect x="1894.40" y="661.80" width="8.4" height="4.30" fill="#047ecc"/><rect x="1902.80" y="647.90" width="8.4" height="18.20" fill="#d048b6"/><rect x="1913.00" y="661.80" width="8.4" height="4.30" fill="#047ecc"/><rect x="1921.40" y="649.00" width="8.4" height="17.10" fill="#d048b6"/><rect x="1931.60" y="661.80" width="8.4" height="4.30" fill="#047ecc"/><rect x="1940.00" y="651.80" width="8.4" height="14.30" fill="#d048b6"/><rect x="1950.20" y="661.80" width="8.4" height="4.30" fill="#047ecc"/><rect x="1958.60" y="638.90" width="8.4" height="27.20" fill="#d048b6"/><rect x="1968.80" y="661.80" width="8.4" height="4.30" fill="#047ecc"/><rect x="1977.20" y="649.00" width="8.4" height="17.10" fill="#d048b6"/><rect x="1987.40" y="661.80" width="8.4" height="4.30" fill="#047ecc"/><rect x="1995.80" y="649.00" width="8.4" height="17.10" fill="#d048b6"/><rect x="2006.00" y="661.80" width="8.4" height="4.30" fill="#047ecc"/><rect x="2014.40" y="650.00" width="8.4" height="16.10" fill="#d048b6"/><rect x="2024.60" y="661.80" width="8.4" height="4.30" fill="#047ecc"/><rect x="2033.00" y="663.90" width="8.4" height="2.20" fill="#d048b6"/><rect x="2043.20" y="661.80" width="8.4" height="4.30" fill="#047ecc"/><rect x="2051.60" y="650.00" width="8.4" height="16.10" fill="#d048b6"/><rect x="2061.80" y="661.80" width="8.4" height="4.30" fill="#047ecc"/><rect x="2070.20" y="634.90" width="8.4" height="31.20" fill="#d048b6"/><rect x="2080.40" y="661.80" width="8.4" height="4.30" fill="#047ecc"/><rect x="2088.80" y="639.00" width="8.4" height="27.10" fill="#d048b6"/><rect x="2099.00" y="661.80" width="8.4" height="4.30" fill="#047ecc"/><rect x="2107.40" y="650.90" width="8.4" height="15.20" fill="#d048b6"/><rect x="2117.60" y="661.80" width="8.4" height="4.30" fill="#047ecc"/><rect x="2126.00" y="650.00" width="8.4" height="16.10" fill="#d048b6"/><rect x="2136.20" y="661.80" width="8.4" height="4.30" fill="#047ecc"/><rect x="2144.60" y="649.00" width="8.4" height="17.10" fill="#d048b6"/><rect x="2154.80" y="661.80" width="8.4" height="4.30" fill="#047ecc"/><rect x="2163.20" y="652.00" width="8.4" height="14.10" fill="#d048b6"/><rect x="2173.40" y="661.80" width="8.4" height="4.30" fill="#047ecc"/><rect x="2181.80" y="652.00" width="8.4" height="14.10" fill="#d048b6"/><rect x="2192.00" y="661.80" width="8.4" height="4.30" fill="#047ecc"/><rect x="2200.40" y="650.00" width="8.4" height="16.10" fill="#d048b6"/></g><path d="M1271.0,507.4 H1279.0 V673.8" fill="none" stroke="#a8a8a8" stroke-width="2"/><line x1="1271.0" y1="649.96" x2="1279.0" y2="649.96" stroke="#4f5250" stroke-width="1.4"/><line x1="1271.0" y1="634.12" x2="1279.0" y2="634.12" stroke="#4f5250" stroke-width="1.4"/><line x1="1271.0" y1="618.28" x2="1279.0" y2="618.28" stroke="#4f5250" stroke-width="1.4"/><line x1="1271.0" y1="602.44" x2="1279.0" y2="602.44" stroke="#4f5250" stroke-width="1.4"/><line x1="1271.0" y1="586.60" x2="1279.0" y2="586.60" stroke="#4f5250" stroke-width="1.4"/><line x1="1271.0" y1="570.76" x2="1279.0" y2="570.76" stroke="#4f5250" stroke-width="1.4"/><line x1="1271.0" y1="554.92" x2="1279.0" y2="554.92" stroke="#4f5250" stroke-width="1.4"/><line x1="1271.0" y1="539.08" x2="1279.0" y2="539.08" stroke="#4f5250" stroke-width="1.4"/><line x1="1271.0" y1="523.24" x2="1279.0" y2="523.24" stroke="#4f5250" stroke-width="1.4"/><path d="M2219.0,507.4 H2211.0 V673.8" fill="none" stroke="#a8a8a8" stroke-width="2"/><line x1="2211.0" y1="649.00" x2="2219.0" y2="649.00" stroke="#4f5250" stroke-width="1.4"/><line x1="2211.0" y1="632.20" x2="2219.0" y2="632.20" stroke="#4f5250" stroke-width="1.4"/><line x1="2211.0" y1="615.40" x2="2219.0" y2="615.40" stroke="#4f5250" stroke-width="1.4"/><line x1="2211.0" y1="598.60" x2="2219.0" y2="598.60" stroke="#4f5250" stroke-width="1.4"/><line x1="2211.0" y1="581.80" x2="2219.0" y2="581.80" stroke="#4f5250" stroke-width="1.4"/><line x1="2211.0" y1="565.00" x2="2219.0" y2="565.00" stroke="#4f5250" stroke-width="1.4"/><line x1="2211.0" y1="548.20" x2="2219.0" y2="548.20" stroke="#4f5250" stroke-width="1.4"/><line x1="2211.0" y1="531.40" x2="2219.0" y2="531.40" stroke="#4f5250" stroke-width="1.4"/><line x1="2211.0" y1="514.60" x2="2219.0" y2="514.60" stroke="#4f5250" stroke-width="1.4"/><line x1="1271.0" y1="666.5999999999999" x2="2219.0" y2="666.5999999999999" stroke="#a8a8a8" stroke-width="2"/></svg>
<div class="t" style="left:1206.50px;top:659.72px;width:60px;font-size:13.8px;line-height:13.8px;color:#a6a6a6;text-align:right;">0.0</div>
<div class="t" style="left:1206.50px;top:643.88px;width:60px;font-size:13.8px;line-height:13.8px;color:#a6a6a6;text-align:right;">180</div>
<div class="t" style="left:1206.50px;top:628.04px;width:60px;font-size:13.8px;line-height:13.8px;color:#a6a6a6;text-align:right;">350</div>
<div class="t" style="left:1206.50px;top:612.20px;width:60px;font-size:13.8px;line-height:13.8px;color:#a6a6a6;text-align:right;">530</div>
<div class="t" style="left:1206.50px;top:596.36px;width:60px;font-size:13.8px;line-height:13.8px;color:#a6a6a6;text-align:right;">710</div>
<div class="t" style="left:1206.50px;top:580.52px;width:60px;font-size:13.8px;line-height:13.8px;color:#a6a6a6;text-align:right;">890</div>
<div class="t" style="left:1206.50px;top:564.68px;width:60px;font-size:13.8px;line-height:13.8px;color:#a6a6a6;text-align:right;">1.1k</div>
<div class="t" style="left:1206.50px;top:548.84px;width:60px;font-size:13.8px;line-height:13.8px;color:#a6a6a6;text-align:right;">1.2k</div>
<div class="t" style="left:1206.50px;top:533.00px;width:60px;font-size:13.8px;line-height:13.8px;color:#a6a6a6;text-align:right;">1.4k</div>
<div class="t" style="left:1206.50px;top:517.16px;width:60px;font-size:13.8px;line-height:13.8px;color:#a6a6a6;text-align:right;">1.6k</div>
<div class="t" style="left:2222.50px;top:659.72px;width:60px;font-size:13.8px;line-height:13.8px;color:#a6a6a6;text-align:left;">0.0</div>
<div class="t" style="left:2222.50px;top:642.92px;width:60px;font-size:13.8px;line-height:13.8px;color:#a6a6a6;text-align:left;">14</div>
<div class="t" style="left:2222.50px;top:626.12px;width:60px;font-size:13.8px;line-height:13.8px;color:#a6a6a6;text-align:left;">28</div>
<div class="t" style="left:2222.50px;top:609.32px;width:60px;font-size:13.8px;line-height:13.8px;color:#a6a6a6;text-align:left;">42</div>
<div class="t" style="left:2222.50px;top:592.52px;width:60px;font-size:13.8px;line-height:13.8px;color:#a6a6a6;text-align:left;">56</div>
<div class="t" style="left:2222.50px;top:575.72px;width:60px;font-size:13.8px;line-height:13.8px;color:#a6a6a6;text-align:left;">70</div>
<div class="t" style="left:2222.50px;top:558.92px;width:60px;font-size:13.8px;line-height:13.8px;color:#a6a6a6;text-align:left;">84</div>
<div class="t" style="left:2222.50px;top:542.12px;width:60px;font-size:13.8px;line-height:13.8px;color:#a6a6a6;text-align:left;">98</div>
<div class="t" style="left:2222.50px;top:525.32px;width:60px;font-size:13.8px;line-height:13.8px;color:#a6a6a6;text-align:left;">110</div>
<div class="t" style="left:2222.50px;top:508.52px;width:60px;font-size:13.8px;line-height:13.8px;color:#a6a6a6;text-align:left;">130</div>
<div class="t" style="left:1259.40px;top:483.12px;width:1200px;font-size:13.8px;line-height:13.8px;color:#a6a6a6;text-align:left;">Hits</div>
<div class="t" style="left:2165.00px;top:483.12px;width:80px;font-size:13.8px;line-height:13.8px;color:#a6a6a6;text-align:right;">Visitors</div>
<div class="t" style="left:1249.70px;top:677.32px;width:79.5px;overflow:hidden;font-size:13.8px;line-height:13.8px;color:#a6a6a6;"><span style="display:inline-block;margin-left:0px">POST /Session/Capabilities</span></div>
<div class="t" style="left:1342.72px;top:677.32px;width:79.5px;overflow:hidden;font-size:13.8px;line-height:13.8px;color:#a6a6a6;"><span style="display:inline-block;margin-left:0px">GET / HTTP/2</span></div>
<div class="t" style="left:1435.74px;top:677.32px;width:79.5px;overflow:hidden;font-size:13.8px;line-height:13.8px;color:#a6a6a6;"><span style="display:inline-block;margin-left:0px">GET /api/v1/sessions</span></div>
<div class="t" style="left:1547.36px;top:677.32px;width:79.5px;overflow:hidden;font-size:13.8px;line-height:13.8px;color:#a6a6a6;"><span style="display:inline-block;margin-left:0px">GET /stream?id=1</span></div>
<div class="t" style="left:1640.38px;top:677.32px;width:79.5px;overflow:hidden;font-size:13.8px;line-height:13.8px;color:#a6a6a6;"><span style="display:inline-block;margin-left:0px">GET /api/v1/config</span></div>
<div class="t" style="left:1752.01px;top:677.32px;width:79.5px;overflow:hidden;font-size:13.8px;line-height:13.8px;color:#a6a6a6;"><span style="display:inline-block;margin-left:0px">GET /Users/2a1b</span></div>
<div class="t" style="left:1845.03px;top:677.32px;width:79.5px;overflow:hidden;font-size:13.8px;line-height:13.8px;color:#a6a6a6;"><span style="display:inline-block;margin-left:0px">GET /Users/2c3d</span></div>
<div class="t" style="left:1956.65px;top:677.32px;width:79.5px;overflow:hidden;font-size:13.8px;line-height:13.8px;color:#a6a6a6;"><span style="display:inline-block;margin-left:0px">GET /current.json</span></div>
<div class="t" style="left:2049.67px;top:677.32px;width:79.5px;overflow:hidden;font-size:13.8px;line-height:13.8px;color:#a6a6a6;"><span style="display:inline-block;margin-left:0px">GET /api/v1/clients</span></div>
<div class="t" style="left:2161.30px;top:677.32px;width:79.5px;overflow:hidden;font-size:13.8px;line-height:13.8px;color:#a6a6a6;"><span style="display:inline-block;margin-left:0px">GET /api/v1/metrics</span></div>
<div class="r" style="left:1607.0px;top:700px;width:14px;height:14px;background:#047ecc;"></div>
<div class="t" style="left:1628.50px;top:701.32px;width:1200px;font-size:13.8px;line-height:13.8px;color:#a6a6a6;text-align:left;">Hits</div>
<div class="r" style="left:1744.7px;top:700px;width:14px;height:14px;background:#d048b6;"></div>
<div class="t" style="left:1765.50px;top:701.32px;width:1200px;font-size:13.8px;line-height:13.8px;color:#a6a6a6;text-align:left;">Visitors</div>
<div class="t" style="left:135.60px;top:753.50px;width:50px;font-size:15px;line-height:15px;color:#ececec;text-align:right;font-weight:bold;">#</div>
<div class="t" style="left:4.90px;top:753.50px;width:300px;font-size:15px;line-height:15px;color:#ececec;text-align:right;font-weight:bold;">HITS</div>
<svg style="left:0;top:0" width="1" height="1"><path d="M308.70,759.90 L318.30,759.90 L313.50,754.30Z M308.70,761.50 L318.30,761.50 L313.50,766.90Z" fill="#ececec"/></svg>
<div class="t" style="left:120.70px;top:753.50px;width:300px;font-size:15px;line-height:15px;color:#ececec;text-align:right;font-weight:bold;">VISITORS</div>
<svg style="left:0;top:0" width="1" height="1"><path d="M424.50,759.90 L434.10,759.90 L429.30,754.30Z M424.50,761.50 L434.10,761.50 L429.30,766.90Z" fill="#ececec"/></svg>
<div class="t" style="left:293.30px;top:753.50px;width:300px;font-size:15px;line-height:15px;color:#ececec;text-align:right;font-weight:bold;">TX. AMOUNT</div>
<svg style="left:0;top:0" width="1" height="1"><path d="M597.10,759.90 L606.70,759.90 L601.90,754.30Z M597.10,761.50 L606.70,761.50 L601.90,766.90Z" fill="#ececec"/></svg>
<div class="t" style="left:394.10px;top:753.50px;width:300px;font-size:15px;line-height:15px;color:#ececec;text-align:right;font-weight:bold;">AVG. T.S.</div>
<svg style="left:0;top:0" width="1" height="1"><path d="M697.90,759.90 L707.50,759.90 L702.70,754.30Z M697.90,761.50 L707.50,761.50 L702.70,766.90Z" fill="#ececec"/></svg>
<div class="t" style="left:496.90px;top:753.50px;width:300px;font-size:15px;line-height:15px;color:#ececec;text-align:right;font-weight:bold;">CUM. T.S.</div>
<svg style="left:0;top:0" width="1" height="1"><path d="M800.70,759.90 L810.30,759.90 L805.50,754.30Z M800.70,761.50 L810.30,761.50 L805.50,766.90Z" fill="#ececec"/></svg>
<div class="t" style="left:599.20px;top:753.50px;width:300px;font-size:15px;line-height:15px;color:#ececec;text-align:right;font-weight:bold;">MAX. T.S.</div>
<svg style="left:0;top:0" width="1" height="1"><path d="M903.00,759.90 L912.60,759.90 L907.80,754.30Z M903.00,761.50 L912.60,761.50 L907.80,766.90Z" fill="#ececec"/></svg>
<div class="t" style="left:934.20px;top:753.50px;width:1200px;font-size:15px;line-height:15px;color:#ececec;text-align:left;font-weight:bold;">DATA</div>
<svg style="left:0;top:0" width="1" height="1"><path d="M976.80,756.90 L986.40,756.90 L981.60,762.50Z" fill="#ececec"/></svg>
<div class="r" style="left:134px;top:784px;width:1028px;height:2px;background:#a3a3a3;"></div>
<div class="r" style="left:134px;top:879.5px;width:1028px;height:2px;background:#a3a3a3;"></div>
<div class="t" style="left:106.50px;top:794.25px;width:80px;font-size:16px;line-height:16px;color:#f2f2f2;text-align:right;font-weight:bold;">MIN.</div>
<div class="t" style="left:-82.00px;top:794.25px;width:400px;font-size:16px;line-height:16px;color:#e9e9e9;text-align:right;">2 <span style="color:#8c8c8c">(00.01%)</span></div>
<div class="t" style="left:33.80px;top:794.25px;width:400px;font-size:16px;line-height:16px;color:#e9e9e9;text-align:right;">1 <span style="color:#8c8c8c">(00.22%)</span></div>
<div class="t" style="left:206.40px;top:794.25px;width:400px;font-size:16px;line-height:16px;color:#e9e9e9;text-align:right;">397 B <span style="color:#8c8c8c">(00.00%)</span></div>
<div class="t" style="left:607.20px;top:793.25px;width:100px;font-size:16px;line-height:16px;color:#6e6e6e;text-align:right;">—</div>
<div class="t" style="left:410.00px;top:794.25px;width:400px;font-size:16px;line-height:16px;color:#e9e9e9;text-align:right;">356.03 ms</div>
<div class="t" style="left:512.30px;top:794.25px;width:400px;font-size:16px;line-height:16px;color:#e9e9e9;text-align:right;">116.30 ms</div>
<div class="t" style="left:1051.50px;top:793.25px;width:100px;font-size:16px;line-height:16px;color:#6e6e6e;text-align:right;">—</div>
<div class="t" style="left:106.50px;top:825.25px;width:80px;font-size:16px;line-height:16px;color:#f2f2f2;text-align:right;font-weight:bold;">MAX.</div>
<div class="t" style="left:-82.00px;top:825.25px;width:400px;font-size:16px;line-height:16px;color:#e9e9e9;text-align:right;">2,867 <span style="color:#8c8c8c">(15.41%)</span></div>
<div class="t" style="left:33.80px;top:825.25px;width:400px;font-size:16px;line-height:16px;color:#e9e9e9;text-align:right;">25 <span style="color:#8c8c8c">(05.38%)</span></div>
<div class="t" style="left:206.40px;top:825.25px;width:400px;font-size:16px;line-height:16px;color:#e9e9e9;text-align:right;">5.36 GiB <span style="color:#8c8c8c">(71.12%)</span></div>
<div class="t" style="left:607.20px;top:824.25px;width:100px;font-size:16px;line-height:16px;color:#6e6e6e;text-align:right;">—</div>
<div class="t" style="left:410.00px;top:825.25px;width:400px;font-size:16px;line-height:16px;color:#e9e9e9;text-align:right;">1.27 d</div>
<div class="t" style="left:512.30px;top:825.25px;width:400px;font-size:16px;line-height:16px;color:#e9e9e9;text-align:right;">14.93 h</div>
<div class="t" style="left:1051.50px;top:824.25px;width:100px;font-size:16px;line-height:16px;color:#6e6e6e;text-align:right;">—</div>
<div class="t" style="left:106.50px;top:856.15px;width:80px;font-size:16px;line-height:16px;color:#f2f2f2;text-align:right;font-weight:bold;">AVG.</div>
<div class="t" style="left:-82.00px;top:856.15px;width:400px;font-size:16px;line-height:16px;color:#e9e9e9;text-align:right;">443 <span style="color:#8c8c8c">(02.38%)</span></div>
<div class="t" style="left:33.80px;top:856.15px;width:400px;font-size:16px;line-height:16px;color:#e9e9e9;text-align:right;">11 <span style="color:#8c8c8c">(02.37%)</span></div>
<div class="t" style="left:206.40px;top:856.15px;width:400px;font-size:16px;line-height:16px;color:#e9e9e9;text-align:right;">183.77 MiB <span style="color:#8c8c8c">(02.38%)</span></div>
<div class="t" style="left:307.20px;top:856.15px;width:400px;font-size:16px;line-height:16px;color:#e9e9e9;text-align:right;">2.22 m</div>
<div class="t" style="left:410.00px;top:856.15px;width:400px;font-size:16px;line-height:16px;color:#e9e9e9;text-align:right;">16.37 h</div>
<div class="t" style="left:512.30px;top:856.15px;width:400px;font-size:16px;line-height:16px;color:#e9e9e9;text-align:right;">16.37 h</div>
<div class="t" style="left:1051.50px;top:855.15px;width:100px;font-size:16px;line-height:16px;color:#6e6e6e;text-align:right;">—</div>
<div class="t" style="left:136.50px;top:896.55px;width:50px;font-size:16px;line-height:16px;color:#f2f2f2;text-align:right;font-weight:bold;">1</div>
<div class="t" style="left:-82.00px;top:896.55px;width:400px;font-size:16px;line-height:16px;color:#e9e9e9;text-align:right;">44 <span style="color:#8c8c8c">(00.24%)</span></div>
<div class="t" style="left:33.80px;top:896.55px;width:400px;font-size:16px;line-height:16px;color:#e9e9e9;text-align:right;">8 <span style="color:#8c8c8c">(01.72%)</span></div>
<div class="t" style="left:206.40px;top:896.55px;width:400px;font-size:16px;line-height:16px;color:#e9e9e9;text-align:right;">236.4 KiB <span style="color:#8c8c8c">(00.00%)</span></div>
<div class="t" style="left:307.20px;top:896.55px;width:400px;font-size:16px;line-height:16px;color:#e9e9e9;text-align:right;">8.09 ms</div>
<div class="t" style="left:410.00px;top:896.55px;width:400px;font-size:16px;line-height:16px;color:#e9e9e9;text-align:right;">356.03 ms</div>
<div class="t" style="left:512.30px;top:896.55px;width:400px;font-size:16px;line-height:16px;color:#e9e9e9;text-align:right;">116.30 ms</div>
<div class="t" style="left:934.40px;top:896.55px;width:1200px;font-size:16px;line-height:16px;color:#e9e9e9;text-align:left;">24/Jan/2026</div>
<div class="r" style="left:134px;top:926.8px;width:1028px;height:44.8px;background:#242332;"></div>
<div class="t" style="left:136.50px;top:941.35px;width:50px;font-size:16px;line-height:16px;color:#f2f2f2;text-align:right;font-weight:bold;">2</div>
<div class="t" style="left:-82.00px;top:941.35px;width:400px;font-size:16px;line-height:16px;color:#e9e9e9;text-align:right;">104 <span style="color:#8c8c8c">(00.56%)</span></div>
<div class="t" style="left:33.80px;top:941.35px;width:400px;font-size:16px;line-height:16px;color:#e9e9e9;text-align:right;">9 <span style="color:#8c8c8c">(01.94%)</span></div>
<div class="t" style="left:206.40px;top:941.35px;width:400px;font-size:16px;line-height:16px;color:#e9e9e9;text-align:right;">7.4 MiB <span style="color:#8c8c8c">(00.10%)</span></div>
<div class="t" style="left:307.20px;top:941.35px;width:400px;font-size:16px;line-height:16px;color:#e9e9e9;text-align:right;">9.11 m</div>
<div class="t" style="left:410.00px;top:941.35px;width:400px;font-size:16px;line-height:16px;color:#e9e9e9;text-align:right;">15.78 h</div>
<div class="t" style="left:512.30px;top:941.35px;width:400px;font-size:16px;line-height:16px;color:#e9e9e9;text-align:right;">11.18 h</div>
<div class="t" style="left:934.40px;top:941.35px;width:1200px;font-size:16px;line-height:16px;color:#e9e9e9;text-align:left;">23/Jan/2026</div>
<div class="t" style="left:136.50px;top:986.15px;width:50px;font-size:16px;line-height:16px;color:#f2f2f2;text-align:right;font-weight:bold;">3</div>
<div class="t" style="left:-82.00px;top:986.15px;width:400px;font-size:16px;line-height:16px;color:#e9e9e9;text-align:right;">431 <span style="color:#8c8c8c">(02.32%)</span></div>
<div class="t" style="left:33.80px;top:986.15px;width:400px;font-size:16px;line-height:16px;color:#e9e9e9;text-align:right;">16 <span style="color:#8c8c8c">(03.44%)</span></div>
<div class="t" style="left:206.40px;top:986.15px;width:400px;font-size:16px;line-height:16px;color:#e9e9e9;text-align:right;">2.9 MiB <span style="color:#8c8c8c">(00.04%)</span></div>
<div class="t" style="left:307.20px;top:986.15px;width:400px;font-size:16px;line-height:16px;color:#e9e9e9;text-align:right;">3.15 m</div>
<div class="t" style="left:410.00px;top:986.15px;width:400px;font-size:16px;line-height:16px;color:#e9e9e9;text-align:right;">22.65 h</div>
<div class="t" style="left:512.30px;top:986.15px;width:400px;font-size:16px;line-height:16px;color:#e9e9e9;text-align:right;">7.28 h</div>
<div class="t" style="left:934.40px;top:986.15px;width:1200px;font-size:16px;line-height:16px;color:#e9e9e9;text-align:left;">22/Jan/2026</div>
<div class="r" style="left:134px;top:1016.4px;width:1028px;height:44.8px;background:#242332;"></div>
<div class="t" style="left:136.50px;top:1030.95px;width:50px;font-size:16px;line-height:16px;color:#f2f2f2;text-align:right;font-weight:bold;">4</div>
<div class="t" style="left:-82.00px;top:1030.95px;width:400px;font-size:16px;line-height:16px;color:#e9e9e9;text-align:right;">537 <span style="color:#8c8c8c">(02.89%)</span></div>
<div class="t" style="left:33.80px;top:1030.95px;width:400px;font-size:16px;line-height:16px;color:#e9e9e9;text-align:right;">10 <span style="color:#8c8c8c">(02.15%)</span></div>
<div class="t" style="left:206.40px;top:1030.95px;width:400px;font-size:16px;line-height:16px;color:#e9e9e9;text-align:right;">85.5 MiB <span style="color:#8c8c8c">(01.11%)</span></div>
<div class="t" style="left:307.20px;top:1030.95px;width:400px;font-size:16px;line-height:16px;color:#e9e9e9;text-align:right;">3.08 m</div>
<div class="t" style="left:410.00px;top:1030.95px;width:400px;font-size:16px;line-height:16px;color:#e9e9e9;text-align:right;">1.15 d</div>
<div class="t" style="left:512.30px;top:1030.95px;width:400px;font-size:16px;line-height:16px;color:#e9e9e9;text-align:right;">8.20 h</div>
<div class="t" style="left:934.40px;top:1030.95px;width:1200px;font-size:16px;line-height:16px;color:#e9e9e9;text-align:left;">21/Jan/2026</div>
<div class="t" style="left:136.50px;top:1075.75px;width:50px;font-size:16px;line-height:16px;color:#f2f2f2;text-align:right;font-weight:bold;">5</div>
<div class="t" style="left:-82.00px;top:1075.75px;width:400px;font-size:16px;line-height:16px;color:#e9e9e9;text-align:right;">2,384 <span style="color:#8c8c8c">(12.81%)</span></div>
<div class="t" style="left:33.80px;top:1075.75px;width:400px;font-size:16px;line-height:16px;color:#e9e9e9;text-align:right;">24 <span style="color:#8c8c8c">(05.16%)</span></div>
<div class="t" style="left:206.40px;top:1075.75px;width:400px;font-size:16px;line-height:16px;color:#e9e9e9;text-align:right;">658 MiB <span style="color:#8c8c8c">(08.52%)</span></div>
<div class="t" style="left:307.20px;top:1075.75px;width:400px;font-size:16px;line-height:16px;color:#e9e9e9;text-align:right;">46.10 s</div>
<div class="t" style="left:410.00px;top:1075.75px;width:400px;font-size:16px;line-height:16px;color:#e9e9e9;text-align:right;">1.27 d</div>
<div class="t" style="left:512.30px;top:1075.75px;width:400px;font-size:16px;line-height:16px;color:#e9e9e9;text-align:right;">13.13 h</div>
<div class="t" style="left:934.40px;top:1075.75px;width:1200px;font-size:16px;line-height:16px;color:#e9e9e9;text-align:left;">20/Jan/2026</div>
<div class="r" style="left:134px;top:1106.0px;width:1028px;height:44.8px;background:#242332;"></div>
<div class="t" style="left:136.50px;top:1120.55px;width:50px;font-size:16px;line-height:16px;color:#f2f2f2;text-align:right;font-weight:bold;">6</div>
<div class="t" style="left:-82.00px;top:1120.55px;width:400px;font-size:16px;line-height:16px;color:#e9e9e9;text-align:right;">215 <span style="color:#8c8c8c">(01.16%)</span></div>
<div class="t" style="left:33.80px;top:1120.55px;width:400px;font-size:16px;line-height:16px;color:#e9e9e9;text-align:right;">20 <span style="color:#8c8c8c">(04.30%)</span></div>
<div class="t" style="left:206.40px;top:1120.55px;width:400px;font-size:16px;line-height:16px;color:#e9e9e9;text-align:right;">1.4 MiB <span style="color:#8c8c8c">(00.02%)</span></div>
<div class="t" style="left:307.20px;top:1120.55px;width:400px;font-size:16px;line-height:16px;color:#e9e9e9;text-align:right;">3.67 m</div>
<div class="t" style="left:410.00px;top:1120.55px;width:400px;font-size:16px;line-height:16px;color:#e9e9e9;text-align:right;">13.16 h</div>
<div class="t" style="left:512.30px;top:1120.55px;width:400px;font-size:16px;line-height:16px;color:#e9e9e9;text-align:right;">7.00 h</div>
<div class="t" style="left:934.40px;top:1120.55px;width:1200px;font-size:16px;line-height:16px;color:#e9e9e9;text-align:left;">19/Jan/2026</div>
<div class="t" style="left:136.50px;top:1165.35px;width:50px;font-size:16px;line-height:16px;color:#f2f2f2;text-align:right;font-weight:bold;">7</div>
<div class="t" style="left:-82.00px;top:1165.35px;width:400px;font-size:16px;line-height:16px;color:#e9e9e9;text-align:right;">1,765 <span style="color:#8c8c8c">(09.48%)</span></div>
<div class="t" style="left:33.80px;top:1165.35px;width:400px;font-size:16px;line-height:16px;color:#e9e9e9;text-align:right;">25 <span style="color:#8c8c8c">(05.38%)</span></div>
<div class="t" style="left:206.40px;top:1165.35px;width:400px;font-size:16px;line-height:16px;color:#e9e9e9;text-align:right;">690.8 MiB <span style="color:#8c8c8c">(08.95%)</span></div>
<div class="t" style="left:307.20px;top:1165.35px;width:400px;font-size:16px;line-height:16px;color:#e9e9e9;text-align:right;">54.05 s</div>
<div class="t" style="left:410.00px;top:1165.35px;width:400px;font-size:16px;line-height:16px;color:#e9e9e9;text-align:right;">1.10 d</div>
<div class="t" style="left:512.30px;top:1165.35px;width:400px;font-size:16px;line-height:16px;color:#e9e9e9;text-align:right;">9.56 h</div>
<div class="t" style="left:934.40px;top:1165.35px;width:1200px;font-size:16px;line-height:16px;color:#e9e9e9;text-align:left;">18/Jan/2026</div>
<div class="r" style="left:134px;top:1195.5px;width:1028px;height:1px;background:#a3a3a3;background:none;border-top:1px dotted #a3a3a3;"></div>
<div class="t" style="left:106.50px;top:1210.96px;width:80px;font-size:19.3px;line-height:19.3px;color:#f2f2f2;text-align:right;font-weight:bold;">TOT.</div>
<div class="t" style="left:18.00px;top:1210.96px;width:300px;font-size:19.3px;line-height:19.3px;color:#f2f2f2;text-align:right;font-weight:bold;">18,609</div>
<div class="t" style="left:133.80px;top:1210.96px;width:300px;font-size:19.3px;line-height:19.3px;color:#f2f2f2;text-align:right;font-weight:bold;">465</div>
<div class="t" style="left:306.40px;top:1210.96px;width:300px;font-size:19.3px;line-height:19.3px;color:#f2f2f2;text-align:right;font-weight:bold;">7.54 GiB</div>
<div class="t" style="left:607.20px;top:1213.26px;width:100px;font-size:19.3px;line-height:19.3px;color:#6e6e6e;text-align:right;">—</div>
<div class="t" style="left:510.00px;top:1210.96px;width:300px;font-size:19.3px;line-height:19.3px;color:#f2f2f2;text-align:right;font-weight:bold;">28.64 d</div>
<div class="t" style="left:612.30px;top:1210.96px;width:300px;font-size:19.3px;line-height:19.3px;color:#f2f2f2;text-align:right;font-weight:bold;">28.64 d</div>
<div class="t" style="left:934.40px;top:1210.96px;width:1200px;font-size:19.3px;line-height:19.3px;color:#f2f2f2;text-align:left;font-weight:bold;">42</div>
<div style="position:absolute;left:0;top:0;width:2259px;height:1249px;overflow:hidden;">
<div class="t" style="left:1232.60px;top:753.50px;width:50px;font-size:15px;line-height:15px;color:#ececec;text-align:right;font-weight:bold;">#</div>
<div class="t" style="left:1101.20px;top:753.50px;width:300px;font-size:15px;line-height:15px;color:#ececec;text-align:right;font-weight:bold;">HITS</div>
<svg style="left:0;top:0" width="1" height="1"><path d="M1405.00,756.90 L1414.60,756.90 L1409.80,762.50Z" fill="#ececec"/></svg>
<div class="t" style="left:1219.40px;top:753.50px;width:300px;font-size:15px;line-height:15px;color:#ececec;text-align:right;font-weight:bold;">VISITORS</div>
<svg style="left:0;top:0" width="1" height="1"><path d="M1523.20,759.90 L1532.80,759.90 L1528.00,754.30Z M1523.20,761.50 L1532.80,761.50 L1528.00,766.90Z" fill="#ececec"/></svg>
<div class="t" style="left:1374.60px;top:753.50px;width:300px;font-size:15px;line-height:15px;color:#ececec;text-align:right;font-weight:bold;">TX. AMOUNT</div>
<svg style="left:0;top:0" width="1" height="1"><path d="M1678.40,759.90 L1688.00,759.90 L1683.20,754.30Z M1678.40,761.50 L1688.00,761.50 L1683.20,766.90Z" fill="#ececec"/></svg>
<div class="t" style="left:1474.40px;top:753.50px;width:300px;font-size:15px;line-height:15px;color:#ececec;text-align:right;font-weight:bold;">AVG. T.S.</div>
<svg style="left:0;top:0" width="1" height="1"><path d="M1778.20,759.90 L1787.80,759.90 L1783.00,754.30Z M1778.20,761.50 L1787.80,761.50 L1783.00,766.90Z" fill="#ececec"/></svg>
<div class="t" style="left:1577.80px;top:753.50px;width:300px;font-size:15px;line-height:15px;color:#ececec;text-align:right;font-weight:bold;">CUM. T.S.</div>
<svg style="left:0;top:0" width="1" height="1"><path d="M1881.60,759.90 L1891.20,759.90 L1886.40,754.30Z M1881.60,761.50 L1891.20,761.50 L1886.40,766.90Z" fill="#ececec"/></svg>
<div class="t" style="left:1680.70px;top:753.50px;width:300px;font-size:15px;line-height:15px;color:#ececec;text-align:right;font-weight:bold;">MAX. T.S.</div>
<svg style="left:0;top:0" width="1" height="1"><path d="M1984.50,759.90 L1994.10,759.90 L1989.30,754.30Z M1984.50,761.50 L1994.10,761.50 L1989.30,766.90Z" fill="#ececec"/></svg>
<div class="t" style="left:1780.60px;top:753.50px;width:300px;font-size:15px;line-height:15px;color:#ececec;text-align:right;font-weight:bold;">METHOD</div>
<svg style="left:0;top:0" width="1" height="1"><path d="M2084.40,759.90 L2094.00,759.90 L2089.20,754.30Z M2084.40,761.50 L2094.00,761.50 L2089.20,766.90Z" fill="#ececec"/></svg>
<div class="t" style="left:1899.60px;top:753.50px;width:300px;font-size:15px;line-height:15px;color:#ececec;text-align:right;font-weight:bold;">PROTOCOL</div>
<svg style="left:0;top:0" width="1" height="1"><path d="M2203.40,759.90 L2213.00,759.90 L2208.20,754.30Z M2203.40,761.50 L2213.00,761.50 L2208.20,766.90Z" fill="#ececec"/></svg>
<div class="t" style="left:2234.30px;top:753.50px;width:1200px;font-size:15px;line-height:15px;color:#ececec;text-align:left;font-weight:bold;">DATA</div>
<div class="r" style="left:1230px;top:784px;width:1040px;height:2px;background:#a3a3a3;"></div>
<div class="r" style="left:1230px;top:880px;width:1040px;height:2px;background:#a3a3a3;"></div>
<div class="t" style="left:1203.00px;top:794.75px;width:80px;font-size:16px;line-height:16px;color:#f2f2f2;text-align:right;font-weight:bold;">MIN.</div>
<div class="t" style="left:1013.60px;top:794.65px;width:400px;font-size:16px;line-height:16px;color:#e9e9e9;text-align:right;">1 <span style="color:#8c8c8c">(00.01%)</span></div>
<div class="t" style="left:1131.80px;top:794.65px;width:400px;font-size:16px;line-height:16px;color:#e9e9e9;text-align:right;">1 <span style="color:#8c8c8c">(00.01%)</span></div>
<div class="t" style="left:1587.00px;top:793.65px;width:100px;font-size:16px;line-height:16px;color:#6e6e6e;text-align:right;">—</div>
<div class="t" style="left:1686.80px;top:793.65px;width:100px;font-size:16px;line-height:16px;color:#6e6e6e;text-align:right;">—</div>
<div class="t" style="left:1790.20px;top:793.65px;width:100px;font-size:16px;line-height:16px;color:#6e6e6e;text-align:right;">—</div>
<div class="t" style="left:1593.10px;top:794.65px;width:400px;font-size:16px;line-height:16px;color:#e9e9e9;text-align:right;">5.00 us</div>
<div class="t" style="left:1993.00px;top:793.65px;width:100px;font-size:16px;line-height:16px;color:#6e6e6e;text-align:right;">—</div>
<div class="t" style="left:2112.00px;top:793.65px;width:100px;font-size:16px;line-height:16px;color:#6e6e6e;text-align:right;">—</div>
<div class="t" style="left:1203.00px;top:825.55px;width:80px;font-size:16px;line-height:16px;color:#f2f2f2;text-align:right;font-weight:bold;">MAX.</div>
<div class="t" style="left:1013.60px;top:825.45px;width:400px;font-size:16px;line-height:16px;color:#e9e9e9;text-align:right;">1,764 <span style="color:#8c8c8c">(11.26%)</span></div>
<div class="t" style="left:1131.80px;top:825.45px;width:400px;font-size:16px;line-height:16px;color:#e9e9e9;text-align:right;">132 <span style="color:#8c8c8c">(01.63%)</span></div>
<div class="t" style="left:1287.00px;top:825.45px;width:400px;font-size:16px;line-height:16px;color:#e9e9e9;text-align:right;">3.94 GiB <span style="color:#8c8c8c">(52.35%)</span></div>
<div class="t" style="left:1686.80px;top:824.45px;width:100px;font-size:16px;line-height:16px;color:#6e6e6e;text-align:right;">—</div>
<div class="t" style="left:1490.20px;top:825.45px;width:400px;font-size:16px;line-height:16px;color:#e9e9e9;text-align:right;">21.42 d</div>
<div class="t" style="left:1593.10px;top:825.45px;width:400px;font-size:16px;line-height:16px;color:#e9e9e9;text-align:right;">14.93 h</div>
<div class="t" style="left:1993.00px;top:824.45px;width:100px;font-size:16px;line-height:16px;color:#6e6e6e;text-align:right;">—</div>
<div class="t" style="left:2112.00px;top:824.45px;width:100px;font-size:16px;line-height:16px;color:#6e6e6e;text-align:right;">—</div>
<div class="t" style="left:1203.00px;top:856.45px;width:80px;font-size:16px;line-height:16px;color:#f2f2f2;text-align:right;font-weight:bold;">AVG.</div>
<div class="t" style="left:1013.60px;top:856.35px;width:400px;font-size:16px;line-height:16px;color:#e9e9e9;text-align:right;">5 <span style="color:#8c8c8c">(00.03%)</span></div>
<div class="t" style="left:1131.80px;top:856.35px;width:400px;font-size:16px;line-height:16px;color:#e9e9e9;text-align:right;">2 <span style="color:#8c8c8c">(00.02%)</span></div>
<div class="t" style="left:1287.00px;top:856.35px;width:400px;font-size:16px;line-height:16px;color:#e9e9e9;text-align:right;">2.49 MiB <span style="color:#8c8c8c">(00.03%)</span></div>
<div class="t" style="left:1386.80px;top:856.35px;width:400px;font-size:16px;line-height:16px;color:#e9e9e9;text-align:right;">2.63 m</div>
<div class="t" style="left:1490.20px;top:856.35px;width:400px;font-size:16px;line-height:16px;color:#e9e9e9;text-align:right;">13.37 m</div>
<div class="t" style="left:1593.10px;top:856.35px;width:400px;font-size:16px;line-height:16px;color:#e9e9e9;text-align:right;">13.37 m</div>
<div class="t" style="left:1993.00px;top:855.35px;width:100px;font-size:16px;line-height:16px;color:#6e6e6e;text-align:right;">—</div>
<div class="t" style="left:2112.00px;top:855.35px;width:100px;font-size:16px;line-height:16px;color:#6e6e6e;text-align:right;">—</div>
<div class="t" style="left:1233.00px;top:896.15px;width:50px;font-size:16px;line-height:16px;color:#f2f2f2;text-align:right;font-weight:bold;">1</div>
<div class="t" style="left:1013.60px;top:896.15px;width:400px;font-size:16px;line-height:16px;color:#e9e9e9;text-align:right;">1,764 <span style="color:#8c8c8c">(09.48%)</span></div>
<div class="t" style="left:1131.80px;top:896.15px;width:400px;font-size:16px;line-height:16px;color:#e9e9e9;text-align:right;">14 <span style="color:#8c8c8c">(03.01%)</span></div>
<div class="t" style="left:1287.00px;top:896.15px;width:400px;font-size:16px;line-height:16px;color:#e9e9e9;text-align:right;">0 Byte <span style="color:#8c8c8c">(00.00%)</span></div>
<div class="t" style="left:1386.80px;top:896.15px;width:400px;font-size:16px;line-height:16px;color:#e9e9e9;text-align:right;">21.29 ms</div>
<div class="t" style="left:1490.20px;top:896.15px;width:400px;font-size:16px;line-height:16px;color:#e9e9e9;text-align:right;">37.55 s</div>
<div class="t" style="left:1593.10px;top:896.15px;width:400px;font-size:16px;line-height:16px;color:#e9e9e9;text-align:right;">303.23 ms</div>
<div class="r" style="left:2015px;top:893.0px;width:78px;height:28px;background:#b993d6;border-radius:5px;"></div>
<div class="t" style="left:2015.00px;top:898.85px;width:78px;font-size:16px;line-height:16px;color:#ffffff;text-align:center;font-weight:bold;">POST</div>
<div class="r" style="left:2115px;top:893.0px;width:97px;height:28px;background:#5a5a5a;border-radius:5px;"></div>
<div class="t" style="left:2115.00px;top:898.85px;width:97px;font-size:16px;line-height:16px;color:#ffffff;text-align:center;font-weight:bold;">HTTP/2</div>
<div class="t" style="left:2233.90px;top:896.15px;width:1200px;font-size:16px;line-height:16px;color:#e9e9e9;text-align:left;">/Session/Capabilities</div>
<div class="r" style="left:1230px;top:932.3px;width:1040px;height:50.3px;background:#242332;"></div>
<div class="t" style="left:1233.00px;top:946.45px;width:50px;font-size:16px;line-height:16px;color:#f2f2f2;text-align:right;font-weight:bold;">2</div>
<div class="t" style="left:1013.60px;top:946.45px;width:400px;font-size:16px;line-height:16px;color:#e9e9e9;text-align:right;">389 <span style="color:#8c8c8c">(02.09%)</span></div>
<div class="t" style="left:1131.80px;top:946.45px;width:400px;font-size:16px;line-height:16px;color:#e9e9e9;text-align:right;">28 <span style="color:#8c8c8c">(06.02%)</span></div>
<div class="t" style="left:1287.00px;top:946.45px;width:400px;font-size:16px;line-height:16px;color:#e9e9e9;text-align:right;">23.1 KiB <span style="color:#8c8c8c">(00.00%)</span></div>
<div class="t" style="left:1386.80px;top:946.45px;width:400px;font-size:16px;line-height:16px;color:#e9e9e9;text-align:right;">19.91 ms</div>
<div class="t" style="left:1490.20px;top:946.45px;width:400px;font-size:16px;line-height:16px;color:#e9e9e9;text-align:right;">7.74 s</div>
<div class="t" style="left:1593.10px;top:946.45px;width:400px;font-size:16px;line-height:16px;color:#e9e9e9;text-align:right;">259.74 ms</div>
<div class="r" style="left:2015px;top:943.3px;width:78px;height:28px;background:#8067a0;border-radius:5px;"></div>
<div class="t" style="left:2015.00px;top:949.15px;width:78px;font-size:16px;line-height:16px;color:#ffffff;text-align:center;font-weight:bold;">GET</div>
<div class="r" style="left:2115px;top:943.3px;width:97px;height:28px;background:#5a5a5a;border-radius:5px;"></div>
<div class="t" style="left:2115.00px;top:949.15px;width:97px;font-size:16px;line-height:16px;color:#ffffff;text-align:center;font-weight:bold;">HTTP/2</div>
<div class="t" style="left:2233.90px;top:946.45px;width:1200px;font-size:16px;line-height:16px;color:#e9e9e9;text-align:left;">/api/v1/sessions</div>
<div class="t" style="left:1233.00px;top:996.75px;width:50px;font-size:16px;line-height:16px;color:#f2f2f2;text-align:right;font-weight:bold;">3</div>
<div class="t" style="left:1013.60px;top:996.75px;width:400px;font-size:16px;line-height:16px;color:#e9e9e9;text-align:right;">386 <span style="color:#8c8c8c">(02.07%)</span></div>
<div class="t" style="left:1131.80px;top:996.75px;width:400px;font-size:16px;line-height:16px;color:#e9e9e9;text-align:right;">9 <span style="color:#8c8c8c">(01.94%)</span></div>
<div class="t" style="left:1287.00px;top:996.75px;width:400px;font-size:16px;line-height:16px;color:#e9e9e9;text-align:right;">1.6 MiB <span style="color:#8c8c8c">(00.02%)</span></div>
<div class="t" style="left:1386.80px;top:996.75px;width:400px;font-size:16px;line-height:16px;color:#e9e9e9;text-align:right;">2.50 ms</div>
<div class="t" style="left:1490.20px;top:996.75px;width:400px;font-size:16px;line-height:16px;color:#e9e9e9;text-align:right;">964.92 ms</div>
<div class="t" style="left:1593.10px;top:996.75px;width:400px;font-size:16px;line-height:16px;color:#e9e9e9;text-align:right;">9.44 ms</div>
<div class="r" style="left:2015px;top:993.6px;width:78px;height:28px;background:#8067a0;border-radius:5px;"></div>
<div class="t" style="left:2015.00px;top:999.45px;width:78px;font-size:16px;line-height:16px;color:#ffffff;text-align:center;font-weight:bold;">GET</div>
<div class="r" style="left:2115px;top:993.6px;width:97px;height:28px;background:#5a5a5a;border-radius:5px;"></div>
<div class="t" style="left:2115.00px;top:999.45px;width:97px;font-size:16px;line-height:16px;color:#ffffff;text-align:center;font-weight:bold;">HTTP/2</div>
<div class="t" style="left:2233.90px;top:996.75px;width:1200px;font-size:16px;line-height:16px;color:#e9e9e9;text-align:left;">/Sessions/Playing</div>
<div class="r" style="left:1230px;top:1032.9px;width:1040px;height:50.3px;background:#242332;"></div>
<div class="t" style="left:1233.00px;top:1047.05px;width:50px;font-size:16px;line-height:16px;color:#f2f2f2;text-align:right;font-weight:bold;">4</div>
<div class="t" style="left:1013.60px;top:1047.05px;width:400px;font-size:16px;line-height:16px;color:#e9e9e9;text-align:right;">346 <span style="color:#8c8c8c">(01.86%)</span></div>
<div class="t" style="left:1131.80px;top:1047.05px;width:400px;font-size:16px;line-height:16px;color:#e9e9e9;text-align:right;">28 <span style="color:#8c8c8c">(06.02%)</span></div>
<div class="t" style="left:1287.00px;top:1047.05px;width:400px;font-size:16px;line-height:16px;color:#e9e9e9;text-align:right;">3.7 KiB <span style="color:#8c8c8c">(00.00%)</span></div>
<div class="t" style="left:1386.80px;top:1047.05px;width:400px;font-size:16px;line-height:16px;color:#e9e9e9;text-align:right;">36.11 ms</div>
<div class="t" style="left:1490.20px;top:1047.05px;width:400px;font-size:16px;line-height:16px;color:#e9e9e9;text-align:right;">12.49 s</div>
<div class="t" style="left:1593.10px;top:1047.05px;width:400px;font-size:16px;line-height:16px;color:#e9e9e9;text-align:right;">310.60 ms</div>
<div class="r" style="left:2015px;top:1043.9px;width:78px;height:28px;background:#8067a0;border-radius:5px;"></div>
<div class="t" style="left:2015.00px;top:1049.75px;width:78px;font-size:16px;line-height:16px;color:#ffffff;text-align:center;font-weight:bold;">GET</div>
<div class="r" style="left:2115px;top:1043.9px;width:97px;height:28px;background:#5a5a5a;border-radius:5px;"></div>
<div class="t" style="left:2115.00px;top:1049.75px;width:97px;font-size:16px;line-height:16px;color:#ffffff;text-align:center;font-weight:bold;">HTTP/2</div>
<div class="t" style="left:2233.90px;top:1047.05px;width:1200px;font-size:16px;line-height:16px;color:#e9e9e9;text-align:left;">/api/v1/config</div>
<div class="t" style="left:1233.00px;top:1097.35px;width:50px;font-size:16px;line-height:16px;color:#f2f2f2;text-align:right;font-weight:bold;">5</div>
<div class="t" style="left:1013.60px;top:1097.35px;width:400px;font-size:16px;line-height:16px;color:#e9e9e9;text-align:right;">337 <span style="color:#8c8c8c">(01.81%)</span></div>
<div class="t" style="left:1131.80px;top:1097.35px;width:400px;font-size:16px;line-height:16px;color:#e9e9e9;text-align:right;">124 <span style="color:#8c8c8c">(26.67%)</span></div>
<div class="t" style="left:1287.00px;top:1097.35px;width:400px;font-size:16px;line-height:16px;color:#e9e9e9;text-align:right;">1.7 MiB <span style="color:#8c8c8c">(00.02%)</span></div>
<div class="t" style="left:1386.80px;top:1097.35px;width:400px;font-size:16px;line-height:16px;color:#e9e9e9;text-align:right;">927.00 us</div>
<div class="t" style="left:1490.20px;top:1097.35px;width:400px;font-size:16px;line-height:16px;color:#e9e9e9;text-align:right;">312.50 ms</div>
<div class="t" style="left:1593.10px;top:1097.35px;width:400px;font-size:16px;line-height:16px;color:#e9e9e9;text-align:right;">3.21 ms</div>
<div class="r" style="left:2015px;top:1094.2px;width:78px;height:28px;background:#8067a0;border-radius:5px;"></div>
<div class="t" style="left:2015.00px;top:1100.05px;width:78px;font-size:16px;line-height:16px;color:#ffffff;text-align:center;font-weight:bold;">GET</div>
<div class="r" style="left:2115px;top:1094.2px;width:97px;height:28px;background:#5a5a5a;border-radius:5px;"></div>
<div class="t" style="left:2115.00px;top:1100.05px;width:97px;font-size:16px;line-height:16px;color:#ffffff;text-align:center;font-weight:bold;">HTTP/2</div>
<div class="t" style="left:2233.90px;top:1097.35px;width:1200px;font-size:16px;line-height:16px;color:#e9e9e9;text-align:left;">/me/profile</div>
<div class="r" style="left:1230px;top:1133.5px;width:1040px;height:50.3px;background:#242332;"></div>
<div class="t" style="left:1233.00px;top:1147.65px;width:50px;font-size:16px;line-height:16px;color:#f2f2f2;text-align:right;font-weight:bold;">6</div>
<div class="t" style="left:1013.60px;top:1147.65px;width:400px;font-size:16px;line-height:16px;color:#e9e9e9;text-align:right;">255 <span style="color:#8c8c8c">(01.37%)</span></div>
<div class="t" style="left:1131.80px;top:1147.65px;width:400px;font-size:16px;line-height:16px;color:#e9e9e9;text-align:right;">132 <span style="color:#8c8c8c">(28.39%)</span></div>
<div class="t" style="left:1287.00px;top:1147.65px;width:400px;font-size:16px;line-height:16px;color:#e9e9e9;text-align:right;">29.1 KiB <span style="color:#8c8c8c">(00.00%)</span></div>
<div class="t" style="left:1386.80px;top:1147.65px;width:400px;font-size:16px;line-height:16px;color:#e9e9e9;text-align:right;">913.00 us</div>
<div class="t" style="left:1490.20px;top:1147.65px;width:400px;font-size:16px;line-height:16px;color:#e9e9e9;text-align:right;">232.86 ms</div>
<div class="t" style="left:1593.10px;top:1147.65px;width:400px;font-size:16px;line-height:16px;color:#e9e9e9;text-align:right;">12.89 ms</div>
<div class="r" style="left:2015px;top:1144.5px;width:78px;height:28px;background:#8067a0;border-radius:5px;"></div>
<div class="t" style="left:2015.00px;top:1150.35px;width:78px;font-size:16px;line-height:16px;color:#ffffff;text-align:center;font-weight:bold;">GET</div>
<div class="r" style="left:2115px;top:1144.5px;width:97px;height:28px;background:#3a3a3a;border-radius:5px;"></div>
<div class="t" style="left:2115.00px;top:1150.35px;width:97px;font-size:16px;line-height:16px;color:#ffffff;text-align:center;font-weight:bold;">HTTP/1.1</div>
<div class="t" style="left:2233.90px;top:1147.65px;width:1200px;font-size:16px;line-height:16px;color:#e9e9e9;text-align:left;">/</div>
<div class="t" style="left:1233.00px;top:1197.95px;width:50px;font-size:16px;line-height:16px;color:#f2f2f2;text-align:right;font-weight:bold;">7</div>
<div class="t" style="left:1013.60px;top:1197.95px;width:400px;font-size:16px;line-height:16px;color:#e9e9e9;text-align:right;">239 <span style="color:#8c8c8c">(01.28%)</span></div>
<div class="t" style="left:1131.80px;top:1197.95px;width:400px;font-size:16px;line-height:16px;color:#e9e9e9;text-align:right;">50 <span style="color:#8c8c8c">(10.75%)</span></div>
<div class="t" style="left:1287.00px;top:1197.95px;width:400px;font-size:16px;line-height:16px;color:#e9e9e9;text-align:right;">49.1 KiB <span style="color:#8c8c8c">(00.00%)</span></div>
<div class="t" style="left:1386.80px;top:1197.95px;width:400px;font-size:16px;line-height:16px;color:#e9e9e9;text-align:right;">1.36 ms</div>
<div class="t" style="left:1490.20px;top:1197.95px;width:400px;font-size:16px;line-height:16px;color:#e9e9e9;text-align:right;">326.34 ms</div>
<div class="t" style="left:1593.10px;top:1197.95px;width:400px;font-size:16px;line-height:16px;color:#e9e9e9;text-align:right;">152.42 ms</div>
<div class="r" style="left:2015px;top:1194.8px;width:78px;height:28px;background:#8067a0;border-radius:5px;"></div>
<div class="t" style="left:2015.00px;top:1200.65px;width:78px;font-size:16px;line-height:16px;color:#ffffff;text-align:center;font-weight:bold;">GET</div>
<div class="r" style="left:2115px;top:1194.8px;width:97px;height:28px;background:#5a5a5a;border-radius:5px;"></div>
<div class="t" style="left:2115.00px;top:1200.65px;width:97px;font-size:16px;line-height:16px;color:#ffffff;text-align:center;font-weight:bold;">HTTP/2</div>
<div class="t" style="left:2233.90px;top:1197.95px;width:1200px;font-size:16px;line-height:16px;color:#e9e9e9;text-align:left;">/System/Info</div>
<div class="r" style="left:1230px;top:1234.5px;width:1040px;height:1px;background:none;border-top:1px dotted #a3a3a3;"></div>
</div>
</body></html>
